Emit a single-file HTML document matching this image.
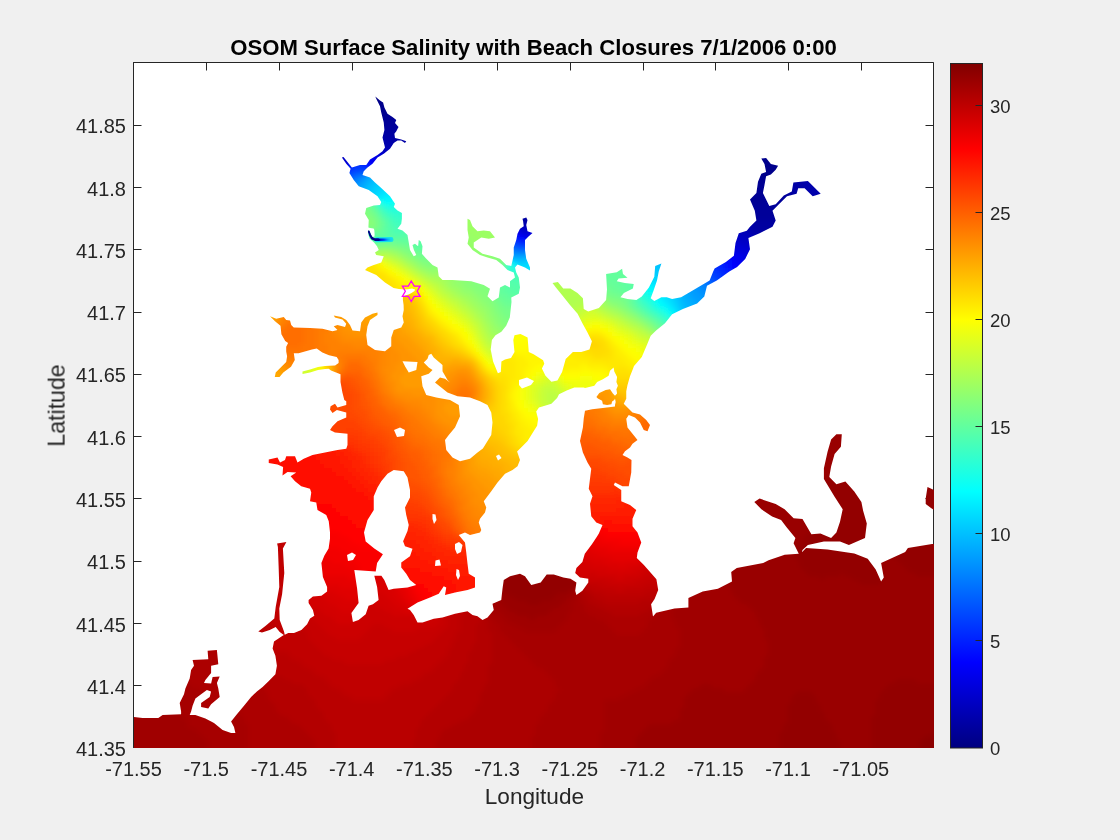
<!DOCTYPE html>
<html><head><meta charset="utf-8"><title>OSOM Surface Salinity</title>
<style>
html,body{margin:0;padding:0;background:#f0f0f0;}
svg{display:block;}
text{font-family:"Liberation Sans",Arial,Helvetica,sans-serif;fill:#262626;}
</style></head><body>
<svg width="1120" height="840" viewBox="0 0 1120 840">
<defs>
<clipPath id="wc">
<polygon points="134,748 134,717 142.6,717.9 158.3,717.9 162.6,715 181.1,714.3 181.1,711.4 179.7,702.9 184,694.3 185.4,688.6 189.7,678.6 191.1,670 194,665.7 192.6,660 208.3,659.3 207.6,650.7 216.9,650 218.3,664.3 211.1,665.7 211.1,672.9 205.4,680 204,682.9 211.1,683.6 212.6,677.1 219.7,676.4 216.9,682.9 218.3,688.6 219.7,697.1 211.1,704.3 208.3,708.6 201.1,707.1 201.1,702.9 209.7,697.1 211.1,691.4 206.9,690 201.1,694.3 195.4,698.6 192.6,705.7 191.1,711.4 189.7,715 195.4,715 205.4,718.6 214,722.9 222.6,730 231.1,732.9 235.4,732.9 234,727.1 231.1,721.4 236.9,714.3 244,705.7 251.1,697.1 256.9,691.4 262.6,687.1 268.3,681.4 275.4,674.3 276.9,665.7 275.4,655.7 272.6,648.6 274,641.4 282.6,635.7 288.3,632.9 294,632.9 301.4,630 307.1,624.3 310,618.6 314.3,615.7 312.9,610 308.6,602.9 308.6,600 312.9,596.4 321.4,595.7 327.1,591.4 327.1,587.1 322.9,577.1 321.4,562.9 324.3,555.7 328.6,548.6 330,538.6 330,532.5 328.75,521.25 326.25,515 317.5,510 316.25,502.5 310,501.25 311.25,492.5 310,488.75 301.25,486.25 295,481.25 290.6,476.25 296.25,472.5 287.5,471.9 282.5,475.6 283.1,466.9 277.5,464.4 268.75,463.1 268.75,459.4 277.5,457.5 280,462.5 285,460 286.25,456.25 295,456.25 297.5,462.5 303.75,458.75 312.5,455 322.5,453.1 337.5,450 346.25,448.75 347.5,445 347.5,433.75 335,432.5 330,430 332.5,426.25 337.5,421.25 346.25,417.5 346.25,412.5 336.9,410 332.5,413.1 330,409.4 330.6,406.25 335,403.75 337.5,407.5 346.25,405 346.25,401.25 344.3,400 342.4,392.4 340.5,381.9 340.5,374.3 331,370.5 327.1,367.6 334.8,365.7 338.6,362.9 338.6,360 336.7,357.1 329,355.2 322.4,352.4 316.7,348.6 311.9,349.5 298.6,353.3 293.8,353.3 294.8,360 291,366.7 283.3,372.4 279.5,377.1 274.8,377.1 275.7,372.4 281.4,366.7 286.2,361.9 287.1,356.2 286.2,351.4 286.2,346.7 288.1,342.9 285.2,341 281.4,334.3 280.5,325.7 275,321.25 270,316.25 276.25,318.75 283.75,316.9 286.25,320 290,320.6 291.25,325 293.75,327.5 310,328.1 322.5,328.75 332.5,331.25 337.5,330 333.75,326.25 337.5,325 345,326.9 346.25,323.75 342.5,319.4 335,317.5 333.75,315.6 341.25,316.9 346.25,320 350,325 352.5,330.6 360,331.25 361.25,322.5 365,317.5 372.5,313.75 377.5,312.5 377.5,315 370,320 367.5,326.25 366.25,335 367.5,345 375,350 385,351.25 391.25,346.25 391.25,337.5 393.75,330 401.25,327.5 403.75,322.5 402.5,316.25 403.75,310 403.6,305 402.9,300 402.9,296.4 405,295.5 408.5,294.5 411.5,293 414.5,291 415,289.5 412,288.6 408,289.2 404.3,289.5 398.9,289 393.6,287.9 385,282.5 376.25,275 365,270 367.5,267.5 373.75,265 381.25,262.5 383.75,256.25 376.25,255 375,252.5 378.75,250 377,246.3 374.3,242.7 371.8,240.6 369.6,238.5 368.2,234 367.9,231.5 368.6,230.2 369.6,231 371,234.5 372.5,237 374.5,236.5 374.6,234 374.3,230 373.6,228.6 370,228 368.4,227.5 368.75,220 365,213.75 366.25,208.1 373.75,205.6 380,205 381.25,201.9 377.5,196.25 368.75,190 358.75,186.25 353.75,180 349.4,173.1 350.6,168.75 346.25,163.75 341.9,157.5 343.5,157 351.9,167.5 360,165 366.25,165 370,159.4 377.5,155 382.5,151.25 385,147.5 383.75,142.5 382.5,137.5 384.4,130 383.75,122.5 381.25,112.5 380,106.25 376.25,98.75 375.3,96.5 380,100.6 383.1,102.5 384.4,107.5 387.5,113.75 392.5,116.9 396.3,120 395,123.1 398.5,126.9 396.3,131.25 394.4,133.75 395,138.1 401.25,139.4 406.25,141.25 405,143.1 401.25,140.6 397.5,140.6 393.75,143.1 390,148.75 383.75,153.75 377.5,157.5 372.5,163.75 367.5,167.5 363.75,171.25 362.5,175 370,177.5 375,182.5 381.25,188 390,196.25 395,203.75 393.75,206.9 397.5,210.6 401.9,213.1 401.9,218.75 401.25,223.75 397.5,228.75 402.5,230.6 407.5,235 408.75,242.5 410,250 413.75,256.25 416.25,255 413.75,249.4 412.5,245 415,243.75 418.1,246.25 418.75,240 420.6,241.25 422.5,246.25 421.9,253.75 425.6,258.1 432.5,265 437.5,267.5 438.75,276.25 442.5,280 452.5,280 460,280.6 471.25,281.25 483.75,285 490,288.75 487.5,296.25 492.5,301.25 498.75,297.5 500,287.5 505,285 510,287.5 510,281.25 515,277.5 513.75,272.5 507.5,270 502.5,265 496.25,260 487.5,257.5 480,255 472.5,250 467.5,243.75 468.75,237.5 467.5,230 467.5,218.75 470,220 472.5,226.25 477.5,231.25 483.75,230.6 490,231.25 495,237.5 488.75,238.75 481.25,237.5 473.75,242.5 473.75,247.5 482.5,253.75 492.5,256.25 500,258.75 506.25,265 511.25,266 513.75,255 513.75,247.5 516.25,240 517.5,233.75 520,228.75 523.75,226.25 523.1,221.25 522.5,218.75 526.25,217.5 527.5,220 526.25,225 527.5,231.25 532.5,233.1 528.75,236.25 525,240 525,250 526.25,258.75 530,267.5 530,270.6 525,267.5 517.5,264.4 515,267.5 516.25,272.5 518.75,277.5 520,287.5 518.75,293.75 511.25,297.5 511.5,301.9 509.8,317.4 506.2,325.7 501.4,331.7 495.5,335.2 491.9,340 490.7,349.5 493.1,361.4 497.9,373.3 500.8,372.1 501.4,361.4 505,359.6 511,357.9 514.5,351.9 513.3,340 514.5,335.2 520.5,334 527.6,337.6 528.8,351.9 533.6,354.3 543.1,360.2 544.3,363.8 541.9,368.6 545.5,375.7 551.4,381.7 557.4,380.5 562.1,372.1 565.7,359 572.9,351.9 581.2,351.9 589.5,349.5 591.9,341.2 587.1,331.7 582.4,323.3 577.6,313.8 570,305 562,295 555.5,287 552.5,283 557.9,282.1 563.2,288.4 570.4,288.4 577.5,292.9 582.9,298.2 583.75,308.9 588.2,311.6 598.9,308 606.1,300 607,289.3 606.1,274.1 616.8,272.3 622.1,268.75 623,274.1 627.5,277.7 618.6,278.6 616.8,281.25 624.8,283 633.75,283.9 632.9,288.4 623.9,292.9 620.4,297.3 627.5,299.1 636.4,300 641.8,296.4 648.9,287.5 654.3,276.8 655.2,266 661.4,263.4 658.75,271.4 657,280.4 653.4,291.1 650.7,298.2 654.3,300.9 661.4,297.3 666.8,297.3 672.1,299.1 681.1,297.3 691.8,291.1 700.7,285.7 709.6,280.4 713.2,271.4 714.6,268.6 725.9,262.1 733.9,255.7 735.5,242.9 738.8,233.2 746.8,230.8 750,226.8 756.4,220.4 754.8,210.7 750,199.5 756.4,193 758,181.8 761.3,173.8 766.1,172.1 764.5,164.1 761.3,158.5 766.1,158 770.9,164.1 778.1,165.7 775.7,169.7 770.9,174.6 766.1,176.2 764.5,185 762.9,193 766.1,199.5 769.3,205.9 775.7,204.3 783.8,195.4 791.8,191.4 793.4,182.6 807.9,181 820.7,193.8 812.7,196.3 804.6,188.2 798.2,188.2 796.6,193.8 787,196.3 778.9,204.3 772.5,210.7 775.7,220.4 772.5,226.8 759.6,233.2 748.4,238 750,249.3 745.2,258.9 737.1,267 729.3,271.4 716.8,280.4 707,285.7 704.3,296.4 697.1,303.6 682.9,308.9 672.1,314.3 665,323.2 656.1,330.4 650.7,335.7 647.1,344.6 641.8,357.1 634,366 632.5,370 630,376.25 627.5,385 626.25,391.25 626.25,398.75 623.75,403.75 627.5,407.5 632.5,412.5 640,414.4 646.25,420 650,425 647.5,431.25 643.75,430 640,422.5 635,417.5 628.75,415 626.25,418.75 627.5,427.5 632.5,433.75 637.5,440 632.5,443.75 630,447.5 625,451.25 622.5,455 627.5,457.5 631.5,460 631.25,472.5 628.75,486.25 622.5,486.25 615,482.5 613.75,485 621.25,490 621.25,501.25 630,505 636.25,510 632.5,518.75 632.5,526.25 637.5,532.5 641.25,542.5 637.5,552.5 636.8,557.9 643.9,565 656.4,579.3 658.2,590 654.6,598.9 651.1,604.3 653,616.6 656.2,612.8 674.5,608.6 688.4,607.5 688.4,598 702.7,591.4 717.9,588.7 732,581.4 731.2,572 736.8,568 763.2,562.9 768.6,560.2 784.7,554.8 800.7,553.5 806.1,548.1 827.5,549.5 854.3,553.5 867.7,558.8 875.7,569.6 881.1,581.6 883.8,577.6 881.1,562.9 905.2,552.1 907.9,548.1 932,544.1 934,544 934,748"/>
<polygon points="277.1,543.6 286.4,542.1 282.9,548.6 284.3,572.9 282.1,594.3 279.3,608.6 279.7,620 284,631.4 285,636 279.7,632 275.7,627 269.7,630 262,632.5 258.3,631.4 265.7,625.7 274.3,618.6 275.7,607.1 279.3,587.1 278.6,565.7 277.9,547.1"/>
<polygon points="302.5,371.5 310,369.5 318,367 325,366 335,365.5 345,364 345,366.8 335,368.5 325,369 318,370 310,372.5 302.5,374"/>
<polygon points="798.9,553.9 793.6,543.2 795.4,537.9 786.4,527.1 781.1,520 772.1,516.4 761.4,509.3 754.3,502.1 759.6,498.6 775.7,503.9 784.6,509.3 793.6,518.2 802.5,519.1 811.4,534.3 820.4,533.4 831.1,537.9 836.4,532.5 840,521.8 842.7,509.3 834.6,496.8 823.9,478.9 823.9,468.2 827.5,452.1 831.1,439.6 836.4,434.3 841.8,434.3 840.9,446.8 834.6,453.9 831.1,466.4 829.3,477.1 836.4,484.3 845.4,481.6 854.3,491.4 861.4,502.1 863.2,511.1 866.8,523.6 865,537.9 848.9,545 840,541.4 823.9,541.4 807.9,545 802.5,550 801,556"/>
<polygon points="927.5,487 932.9,489.6 934,490 934,510 931,508 925.7,503.9 925.7,498.6"/>
</clipPath>
<filter id="bl" x="0" y="0" width="1" height="1"><feGaussianBlur stdDeviation="2.5"/></filter>
<filter id="bl2" x="-0.5" y="-0.5" width="2" height="2"><feGaussianBlur stdDeviation="0.6"/></filter>
<linearGradient id="plume" gradientUnits="userSpaceOnUse" x1="377" y1="0" x2="391" y2="0"><stop offset="0" stop-color="#0000a0"/><stop offset="0.5" stop-color="#0040ff"/><stop offset="1" stop-color="#00c0ff" stop-opacity="0.3"/></linearGradient>
<linearGradient id="jet" x1="0" y1="1" x2="0" y2="0"><stop offset="0.0000" stop-color="#000080"/><stop offset="0.1250" stop-color="#0000ff"/><stop offset="0.2500" stop-color="#0080ff"/><stop offset="0.3750" stop-color="#00ffff"/><stop offset="0.5000" stop-color="#80ff80"/><stop offset="0.6250" stop-color="#ffff00"/><stop offset="0.7500" stop-color="#ff8000"/><stop offset="0.8750" stop-color="#ff0000"/><stop offset="1.0000" stop-color="#800000"/></linearGradient>
</defs>
<rect width="1120" height="840" fill="#f0f0f0"/>
<rect x="133.5" y="62.5" width="800" height="685" fill="#ffffff"/>
<path d="M133.5 747.5V62.5H933.5V747.5Z" fill="none" stroke="#262626" stroke-width="1"/>
<path d="M133.5 62.5v8M133.5 747.5v-8M206.5 62.5v8M206.5 747.5v-8M279.5 62.5v8M279.5 747.5v-8M352.5 62.5v8M352.5 747.5v-8M424.5 62.5v8M424.5 747.5v-8M497.5 62.5v8M497.5 747.5v-8M570.5 62.5v8M570.5 747.5v-8M643.5 62.5v8M643.5 747.5v-8M715.5 62.5v8M715.5 747.5v-8M788.5 62.5v8M788.5 747.5v-8M861.5 62.5v8M861.5 747.5v-8M133.5 747.5h8M933.5 747.5h-8M133.5 685.5h8M933.5 685.5h-8M133.5 623.5h8M933.5 623.5h-8M133.5 561.5h8M933.5 561.5h-8M133.5 498.5h8M933.5 498.5h-8M133.5 436.5h8M933.5 436.5h-8M133.5 374.5h8M933.5 374.5h-8M133.5 312.5h8M933.5 312.5h-8M133.5 249.5h8M933.5 249.5h-8M133.5 187.5h8M933.5 187.5h-8M133.5 125.5h8M933.5 125.5h-8" stroke="#262626" stroke-width="1" fill="none"/>
<g clip-path="url(#wc)"><g filter="url(#bl)">
<path fill="#000080" d="M372 84h8v4h-8zM368 88h12v4h-12zM364 92h16v4h-16zM360 96h16v4h-16zM364 100h4v4h-4z"/>
<path fill="#000086" d="M380 88h4v4h-4zM380 92h8v4h-8zM376 96h8v4h-8zM368 100h8v4h-8zM364 104h4v4h-4z"/>
<path fill="#00008c" d="M384 96h8v4h-8zM376 100h20v4h-20zM368 104h28v4h-28zM368 108h24v4h-24zM368 112h16v4h-16zM368 116h8v4h-8zM760 144h8v4h-8zM756 148h16v4h-16zM752 152h28v4h-28zM748 156h36v4h-36zM748 160h40v4h-40zM752 164h40v4h-40zM752 168h36v4h-36zM752 172h32v4h-32zM760 176h20v4h-20zM772 180h8v4h-8z"/>
<path fill="#000093" d="M396 104h4v4h-4zM392 108h8v4h-8zM384 112h12v4h-12zM376 116h16v4h-16zM368 120h8v4h-8zM788 168h4v4h-4zM748 172h4v4h-4zM784 172h4v4h-4zM744 176h16v4h-16zM780 176h4v4h-4zM744 180h28v4h-28zM744 184h32v4h-32zM744 188h32v4h-32zM740 192h32v4h-32zM736 196h32v4h-32zM736 200h24v4h-24zM740 204h8v4h-8z"/>
<path fill="#000099" d="M396 112h8v4h-8zM392 116h16v4h-16zM376 120h36v4h-36zM368 124h44v4h-44zM400 128h8v4h-8zM776 184h4v4h-4zM776 188h8v4h-8zM772 192h16v4h-16zM768 196h20v4h-20zM760 200h32v4h-32zM748 204h44v4h-44zM740 208h48v4h-48zM740 212h48v4h-48zM752 216h36v4h-36z"/>
<path fill="#0000a0" d="M368 128h32v4h-32zM408 128h4v4h-4zM384 132h20v4h-20zM404 144h12v4h-12zM400 148h12v4h-12zM404 152h4v4h-4zM780 180h4v4h-4zM780 184h8v4h-8zM784 188h8v4h-8zM788 192h8v4h-8zM788 196h12v4h-12zM792 200h8v4h-8zM520 204h8v4h-8zM792 204h8v4h-8zM516 208h16v4h-16zM512 212h24v4h-24zM508 216h32v4h-32zM744 216h8v4h-8zM752 220h36v4h-36zM756 224h32v4h-32zM760 228h24v4h-24zM764 232h16v4h-16zM764 236h12v4h-12zM768 240h4v4h-4z"/>
<path fill="#0000a6" d="M368 132h16v4h-16zM404 132h8v4h-8zM368 136h48v4h-48zM392 140h28v4h-28zM396 144h8v4h-8zM792 168h4v4h-4zM788 172h12v4h-12zM784 176h16v4h-16zM784 180h20v4h-20zM788 184h16v4h-16zM792 188h12v4h-12zM796 192h8v4h-8zM800 196h4v4h-4zM800 200h4v4h-4zM740 216h4v4h-4zM516 220h20v4h-20zM744 220h8v4h-8zM748 224h8v4h-8zM752 228h8v4h-8zM756 232h8v4h-8zM756 236h8v4h-8zM760 240h8v4h-8z"/>
<path fill="#0000ac" d="M368 140h24v4h-24zM380 144h4v4h-4zM388 144h8v4h-8zM396 148h4v4h-4zM400 152h4v4h-4zM796 168h16v4h-16zM800 172h16v4h-16zM800 176h20v4h-20zM804 180h20v4h-20zM804 184h24v4h-24zM804 188h28v4h-28zM804 192h32v4h-32zM804 196h28v4h-28zM804 200h24v4h-24zM808 204h16v4h-16zM812 208h4v4h-4zM740 220h4v4h-4zM744 224h4v4h-4zM748 228h4v4h-4zM752 232h4v4h-4zM752 236h4v4h-4zM756 240h4v4h-4z"/>
<path fill="#0000b3" d="M376 144h4v4h-4zM384 144h4v4h-4zM388 148h8v4h-8zM392 152h8v4h-8zM512 220h4v4h-4zM536 220h4v4h-4zM524 224h8v4h-8zM740 224h4v4h-4zM744 228h4v4h-4zM748 232h4v4h-4z"/>
<path fill="#0000b9" d="M384 148h4v4h-4zM388 152h4v4h-4zM392 156h4v4h-4zM736 220h4v4h-4zM520 224h4v4h-4zM532 224h4v4h-4zM740 228h4v4h-4zM740 232h8v4h-8zM748 236h4v4h-4z"/>
<path fill="#0000c0" d="M340 144h8v4h-8zM336 148h16v4h-16zM332 152h16v4h-16zM328 156h16v4h-16zM328 160h12v4h-12zM508 220h4v4h-4zM732 224h8v4h-8zM728 228h12v4h-12zM732 232h8v4h-8zM740 236h8v4h-8zM752 240h4v4h-4z"/>
<path fill="#0000c6" d="M372 144h4v4h-4zM380 148h4v4h-4zM348 152h4v4h-4zM384 152h4v4h-4zM344 156h4v4h-4zM388 156h4v4h-4zM340 160h4v4h-4zM332 164h4v4h-4zM516 224h4v4h-4zM524 228h4v4h-4zM724 232h8v4h-8zM728 236h12v4h-12zM740 240h12v4h-12zM760 244h4v4h-4z"/>
<path fill="#0000cc" d="M376 148h4v4h-4zM352 152h4v4h-4zM380 152h4v4h-4zM348 156h4v4h-4zM384 156h4v4h-4zM344 160h4v4h-4zM384 160h8v4h-8zM336 164h8v4h-8zM336 168h4v4h-4zM520 228h4v4h-4zM528 228h4v4h-4zM724 236h4v4h-4zM720 240h20v4h-20zM740 244h12v4h-12z"/>
<path fill="#0000d3" d="M380 156h4v4h-4zM720 244h20v4h-20zM752 244h8v4h-8zM744 248h20v4h-20zM752 252h12v4h-12z"/>
<path fill="#0000d9" d="M368 144h4v4h-4zM372 148h4v4h-4zM376 152h4v4h-4zM352 156h4v4h-4zM348 160h4v4h-4zM344 164h4v4h-4zM384 164h4v4h-4zM508 224h8v4h-8zM536 224h4v4h-4zM516 228h4v4h-4zM532 228h12v4h-12zM524 232h24v4h-24zM536 236h8v4h-8zM732 248h12v4h-12zM744 252h8v4h-8zM752 256h8v4h-8z"/>
<path fill="#0000e0" d="M372 152h4v4h-4zM376 156h4v4h-4zM380 160h4v4h-4zM512 228h4v4h-4zM520 232h4v4h-4zM532 236h4v4h-4zM536 240h4v4h-4zM728 248h4v4h-4zM740 252h4v4h-4zM744 256h8v4h-8zM752 260h4v4h-4z"/>
<path fill="#0000e6" d="M368 148h4v4h-4zM528 236h4v4h-4zM532 240h4v4h-4zM736 252h4v4h-4zM740 256h4v4h-4zM744 260h8v4h-8zM748 264h8v4h-8z"/>
<path fill="#0000ed" d="M368 152h4v4h-4zM372 156h4v4h-4zM376 160h4v4h-4zM380 164h4v4h-4zM732 252h4v4h-4zM736 256h4v4h-4zM740 260h4v4h-4zM744 264h4v4h-4zM748 268h4v4h-4z"/>
<path fill="#0000f3" d="M364 148h4v4h-4zM364 152h4v4h-4zM368 156h4v4h-4zM372 160h4v4h-4zM376 164h4v4h-4zM380 168h4v4h-4zM508 228h4v4h-4zM516 232h4v4h-4zM524 236h4v4h-4zM724 248h4v4h-4zM728 252h4v4h-4zM732 256h4v4h-4zM736 260h4v4h-4z"/>
<path fill="#0000f9" d="M368 160h4v4h-4zM348 164h4v4h-4zM508 232h8v4h-8zM732 260h4v4h-4zM736 264h8v4h-8zM744 268h4v4h-4z"/>
<path fill="#0001ff" d="M364 156h4v4h-4zM372 164h4v4h-4zM376 168h4v4h-4zM520 236h4v4h-4zM528 240h4v4h-4zM720 248h4v4h-4zM724 252h4v4h-4zM728 256h4v4h-4zM732 264h4v4h-4zM740 268h4v4h-4zM744 272h4v4h-4z"/>
<path fill="#0007ff" d="M360 152h4v4h-4zM352 160h4v4h-4zM512 236h8v4h-8zM720 252h4v4h-4zM724 256h4v4h-4zM728 260h4v4h-4zM732 268h8v4h-8zM736 272h8v4h-8zM736 276h8v4h-8z"/>
<path fill="#000eff" d="M368 164h4v4h-4zM340 168h4v4h-4zM372 168h4v4h-4zM720 256h4v4h-4zM724 260h4v4h-4zM728 264h4v4h-4zM732 272h4v4h-4z"/>
<path fill="#0014ff" d="M364 160h4v4h-4zM716 252h4v4h-4zM724 264h4v4h-4zM728 268h4v4h-4zM732 276h4v4h-4z"/>
<path fill="#001aff" d="M360 156h4v4h-4zM344 168h4v4h-4zM508 236h4v4h-4zM524 240h4v4h-4zM536 244h4v4h-4zM720 260h4v4h-4zM724 268h4v4h-4zM728 272h4v4h-4zM732 280h4v4h-4z"/>
<path fill="#0021ff" d="M364 164h4v4h-4zM368 168h4v4h-4zM520 240h4v4h-4zM716 256h4v4h-4zM716 260h4v4h-4zM720 264h4v4h-4zM724 272h4v4h-4zM728 276h4v4h-4z"/>
<path fill="#0027ff" d="M516 240h4v4h-4zM712 256h4v4h-4zM716 264h4v4h-4zM720 268h4v4h-4zM724 276h4v4h-4zM728 280h4v4h-4z"/>
<path fill="#002eff" d="M360 160h4v4h-4zM352 164h4v4h-4zM360 164h4v4h-4zM348 168h4v4h-4zM708 260h8v4h-8zM712 264h4v4h-4zM716 268h4v4h-4zM720 272h4v4h-4zM724 280h4v4h-4z"/>
<path fill="#0034ff" d="M356 152h4v4h-4zM356 156h4v4h-4zM356 160h4v4h-4zM356 164h4v4h-4zM364 168h4v4h-4zM708 264h4v4h-4zM712 268h4v4h-4zM716 272h4v4h-4zM720 276h4v4h-4z"/>
<path fill="#003bff" d="M352 168h4v4h-4zM508 240h8v4h-8zM704 264h4v4h-4zM708 268h4v4h-4zM712 272h4v4h-4zM716 276h4v4h-4zM720 280h4v4h-4zM720 284h8v4h-8z"/>
<path fill="#0041ff" d="M356 168h8v4h-8zM520 244h16v4h-16zM704 268h4v4h-4z"/>
<path fill="#0047ff" d="M336 172h16v4h-16zM336 176h4v4h-4zM504 240h4v4h-4zM516 244h4v4h-4zM700 268h4v4h-4zM704 272h8v4h-8zM712 276h4v4h-4zM716 280h4v4h-4z"/>
<path fill="#004eff" d="M340 176h4v4h-4zM708 276h4v4h-4zM720 288h4v4h-4z"/>
<path fill="#0054ff" d="M352 172h4v4h-4zM344 176h4v4h-4zM512 244h4v4h-4zM700 272h4v4h-4zM712 280h4v4h-4zM716 284h4v4h-4z"/>
<path fill="#005bff" d="M356 172h4v4h-4zM348 176h4v4h-4zM340 180h8v4h-8zM712 284h4v4h-4zM716 288h4v4h-4z"/>
<path fill="#0061ff" d="M360 172h4v4h-4zM704 276h4v4h-4zM708 280h4v4h-4z"/>
<path fill="#0067ff" d="M364 172h4v4h-4zM352 176h4v4h-4zM508 244h4v4h-4zM516 248h20v4h-20z"/>
<path fill="#006eff" d="M348 180h4v4h-4zM504 244h4v4h-4z"/>
<path fill="#0074ff" d="M504 248h12v4h-12zM704 280h4v4h-4zM708 284h4v4h-4zM712 288h4v4h-4z"/>
<path fill="#007bff" d="M356 176h4v4h-4zM344 184h4v4h-4zM700 276h4v4h-4zM704 284h4v4h-4zM716 292h4v4h-4z"/>
<path fill="#0081ff" d="M352 180h4v4h-4zM696 272h4v4h-4zM700 280h4v4h-4zM708 288h4v4h-4z"/>
<path fill="#0088ff" d="M360 176h4v4h-4zM348 184h4v4h-4zM536 248h4v4h-4zM520 252h4v4h-4zM692 276h8v4h-8zM696 280h4v4h-4zM700 284h4v4h-4zM704 288h4v4h-4zM712 292h4v4h-4z"/>
<path fill="#008eff" d="M356 180h4v4h-4zM352 184h4v4h-4zM348 188h4v4h-4zM508 252h12v4h-12zM524 252h4v4h-4zM692 280h4v4h-4zM696 284h4v4h-4zM700 288h4v4h-4zM704 292h8v4h-8zM708 296h12v4h-12zM712 300h4v4h-4z"/>
<path fill="#0094ff" d="M688 276h4v4h-4zM692 284h4v4h-4zM696 288h4v4h-4zM700 292h4v4h-4zM704 296h4v4h-4zM708 300h4v4h-4z"/>
<path fill="#009bff" d="M360 180h4v4h-4zM356 184h4v4h-4zM352 188h4v4h-4zM688 280h4v4h-4zM688 284h4v4h-4zM692 288h4v4h-4zM692 292h8v4h-8zM696 296h8v4h-8zM704 300h4v4h-4zM708 304h4v4h-4z"/>
<path fill="#00a1ff" d="M364 176h4v4h-4zM356 188h4v4h-4zM352 192h8v4h-8zM680 280h8v4h-8zM684 284h4v4h-4zM688 288h4v4h-4zM688 292h4v4h-4zM692 296h4v4h-4zM696 300h8v4h-8zM700 304h8v4h-8zM700 308h8v4h-8z"/>
<path fill="#00a8ff" d="M368 172h8v4h-8zM364 180h4v4h-4zM360 184h4v4h-4zM356 196h4v4h-4zM528 252h4v4h-4zM684 288h4v4h-4zM688 296h4v4h-4zM692 300h4v4h-4zM692 304h8v4h-8zM696 308h4v4h-4zM696 312h8v4h-8z"/>
<path fill="#00aeff" d="M368 176h4v4h-4zM360 188h4v4h-4zM508 256h16v4h-16zM680 284h4v4h-4zM680 288h4v4h-4zM684 292h4v4h-4zM684 296h4v4h-4zM688 300h4v4h-4zM692 308h4v4h-4z"/>
<path fill="#00b4ff" d="M376 172h4v4h-4zM372 176h4v4h-4zM368 180h4v4h-4zM364 184h4v4h-4zM360 192h4v4h-4zM532 252h8v4h-8zM524 256h8v4h-8zM676 284h4v4h-4zM676 288h4v4h-4zM680 292h4v4h-4zM680 296h4v4h-4zM684 300h4v4h-4zM684 304h8v4h-8zM688 308h4v4h-4zM688 312h8v4h-8zM692 316h4v4h-4z"/>
<path fill="#00bbff" d="M380 172h4v4h-4zM376 176h4v4h-4zM364 188h4v4h-4zM360 196h4v4h-4zM676 292h4v4h-4zM680 300h4v4h-4zM684 308h4v4h-4zM688 316h4v4h-4z"/>
<path fill="#00c1ff" d="M372 180h4v4h-4zM368 184h4v4h-4zM364 192h4v4h-4zM660 248h4v4h-4zM652 252h16v4h-16zM648 256h24v4h-24zM652 260h24v4h-24zM656 264h20v4h-20zM668 268h4v4h-4zM680 304h4v4h-4zM684 312h4v4h-4z"/>
<path fill="#00c8ff" d="M380 176h4v4h-4zM376 180h4v4h-4zM372 184h4v4h-4zM368 188h4v4h-4zM368 192h4v4h-4zM364 196h4v4h-4zM504 228h4v4h-4zM504 232h4v4h-4zM532 256h4v4h-4zM516 260h8v4h-8zM644 260h8v4h-8zM640 264h16v4h-16zM640 268h28v4h-28zM656 272h16v4h-16zM664 276h8v4h-8zM676 296h4v4h-4zM676 300h4v4h-4zM680 308h4v4h-4zM684 316h4v4h-4z"/>
<path fill="#00ceff" d="M376 184h4v4h-4zM372 188h4v4h-4zM536 256h4v4h-4zM524 260h4v4h-4zM648 272h8v4h-8zM660 276h4v4h-4zM672 284h4v4h-4zM672 292h4v4h-4zM672 296h4v4h-4zM676 304h4v4h-4zM680 312h4v4h-4zM684 320h4v4h-4z"/>
<path fill="#00d4ff" d="M384 176h4v4h-4zM380 180h8v4h-8zM380 184h4v4h-4zM376 188h4v4h-4zM372 192h4v4h-4zM368 196h8v4h-8zM512 260h4v4h-4zM528 260h4v4h-4zM520 264h4v4h-4zM644 272h4v4h-4zM652 276h8v4h-8zM668 280h4v4h-4zM672 288h4v4h-4zM672 300h4v4h-4zM676 308h4v4h-4zM680 316h4v4h-4z"/>
<path fill="#00dbff" d="M388 180h4v4h-4zM384 184h4v4h-4zM380 188h4v4h-4zM376 192h4v4h-4zM532 260h8v4h-8zM524 264h4v4h-4zM648 276h4v4h-4zM656 280h12v4h-12zM660 284h4v4h-4zM668 296h4v4h-4zM672 304h4v4h-4z"/>
<path fill="#00e1ff" d="M388 184h4v4h-4zM384 188h4v4h-4zM380 192h4v4h-4zM540 260h4v4h-4zM528 264h8v4h-8zM524 268h4v4h-4zM644 276h4v4h-4zM652 280h4v4h-4zM664 284h8v4h-8zM664 288h8v4h-8zM664 292h8v4h-8zM664 296h4v4h-4zM668 300h4v4h-4zM676 312h4v4h-4z"/>
<path fill="#00e8ff" d="M392 184h4v4h-4zM388 188h4v4h-4zM384 192h4v4h-4zM376 196h4v4h-4zM516 264h4v4h-4zM536 264h8v4h-8zM528 268h16v4h-16zM528 272h12v4h-12zM532 276h4v4h-4zM648 280h4v4h-4zM656 284h4v4h-4zM660 288h4v4h-4zM660 292h4v4h-4zM660 296h4v4h-4zM664 300h4v4h-4zM668 304h4v4h-4zM672 308h4v4h-4zM680 320h4v4h-4z"/>
<path fill="#00eeff" d="M392 188h4v4h-4zM388 192h4v4h-4zM380 196h4v4h-4zM504 236h4v4h-4zM644 280h4v4h-4zM652 284h4v4h-4zM656 288h4v4h-4z"/>
<path fill="#00f5ff" d="M396 188h4v4h-4zM392 192h4v4h-4zM384 196h8v4h-8zM520 268h4v4h-4zM648 284h4v4h-4zM656 292h4v4h-4zM660 300h4v4h-4zM664 304h4v4h-4zM668 308h4v4h-4zM672 312h4v4h-4zM676 316h4v4h-4z"/>
<path fill="#00fbff" d="M396 192h8v4h-8zM392 196h4v4h-4zM524 272h4v4h-4zM652 288h4v4h-4zM656 296h4v4h-4z"/>
<path fill="#02fffd" d="M396 196h4v4h-4zM384 200h8v4h-8zM500 244h4v4h-4zM508 260h4v4h-4zM528 276h4v4h-4zM644 284h4v4h-4zM648 288h4v4h-4zM656 300h4v4h-4zM660 304h4v4h-4z"/>
<path fill="#09fff6" d="M400 196h4v4h-4zM380 200h4v4h-4zM392 200h4v4h-4zM504 252h4v4h-4zM512 264h4v4h-4zM644 288h4v4h-4zM652 292h4v4h-4zM664 308h4v4h-4zM668 312h4v4h-4z"/>
<path fill="#0ffff0" d="M404 196h4v4h-4zM396 200h8v4h-8zM640 284h4v4h-4zM640 288h4v4h-4zM648 292h4v4h-4zM656 304h4v4h-4z"/>
<path fill="#16ffe9" d="M376 200h4v4h-4zM404 200h4v4h-4zM388 204h12v4h-12zM644 292h4v4h-4zM652 296h4v4h-4zM652 300h4v4h-4zM660 308h4v4h-4zM672 316h4v4h-4zM676 320h4v4h-4z"/>
<path fill="#1cffe3" d="M384 204h4v4h-4zM640 272h4v4h-4zM648 296h4v4h-4zM652 304h4v4h-4zM664 312h4v4h-4z"/>
<path fill="#22ffdd" d="M392 208h4v4h-4zM640 276h4v4h-4zM640 292h4v4h-4zM644 296h4v4h-4zM648 300h4v4h-4zM656 308h4v4h-4zM668 316h4v4h-4zM672 320h4v4h-4zM676 324h4v4h-4z"/>
<path fill="#29ffd6" d="M380 204h4v4h-4zM400 204h4v4h-4zM388 208h4v4h-4zM396 208h4v4h-4zM512 268h8v4h-8zM640 280h4v4h-4zM660 312h4v4h-4z"/>
<path fill="#2fffd0" d="M404 204h4v4h-4zM384 208h4v4h-4zM400 208h12v4h-12zM392 212h24v4h-24zM508 264h4v4h-4zM508 268h4v4h-4zM640 296h4v4h-4zM644 300h4v4h-4zM648 304h4v4h-4zM652 308h4v4h-4zM664 316h4v4h-4zM668 320h4v4h-4zM672 324h4v4h-4z"/>
<path fill="#36ffc9" d="M388 212h4v4h-4zM396 216h20v4h-20zM504 272h12v4h-12zM636 292h4v4h-4zM656 312h4v4h-4z"/>
<path fill="#3cffc3" d="M392 216h4v4h-4zM396 220h20v4h-20zM640 300h4v4h-4zM644 304h4v4h-4zM648 308h4v4h-4zM660 316h4v4h-4z"/>
<path fill="#43ffbc" d="M380 208h4v4h-4zM384 212h4v4h-4zM388 216h4v4h-4zM392 220h4v4h-4zM396 224h12v4h-12zM516 272h4v4h-4zM636 296h4v4h-4zM652 312h4v4h-4zM664 320h4v4h-4zM668 324h4v4h-4z"/>
<path fill="#49ffb6" d="M376 204h4v4h-4zM392 224h4v4h-4zM408 224h4v4h-4zM396 228h4v4h-4zM504 268h4v4h-4zM500 272h4v4h-4zM520 272h4v4h-4zM516 276h4v4h-4zM636 300h4v4h-4zM640 304h4v4h-4zM644 308h4v4h-4zM656 316h4v4h-4z"/>
<path fill="#4fffb0" d="M372 200h4v4h-4zM380 212h4v4h-4zM384 216h4v4h-4zM388 220h4v4h-4zM388 224h4v4h-4zM392 228h4v4h-4zM400 228h8v4h-8zM352 232h20v4h-20zM392 232h12v4h-12zM356 236h16v4h-16zM356 240h12v4h-12zM504 276h12v4h-12zM520 276h8v4h-8zM512 280h16v4h-16zM636 288h4v4h-4zM648 312h4v4h-4zM660 320h4v4h-4zM664 324h4v4h-4zM668 328h4v4h-4z"/>
<path fill="#56ffa9" d="M376 208h4v4h-4zM412 224h4v4h-4zM388 228h4v4h-4zM408 228h8v4h-8zM372 232h4v4h-4zM388 232h4v4h-4zM404 232h8v4h-8zM372 236h4v4h-4zM368 240h8v4h-8zM360 244h12v4h-12zM504 264h4v4h-4zM508 280h4v4h-4zM528 280h4v4h-4zM508 284h28v4h-28zM512 288h24v4h-24zM516 292h16v4h-16zM516 296h12v4h-12zM520 300h4v4h-4zM636 304h4v4h-4zM640 308h4v4h-4zM652 316h4v4h-4z"/>
<path fill="#5cffa3" d="M372 204h4v4h-4zM380 216h4v4h-4zM384 220h4v4h-4zM384 224h4v4h-4zM384 228h4v4h-4zM416 228h8v4h-8zM384 232h4v4h-4zM412 232h16v4h-16zM376 236h56v4h-56zM416 240h20v4h-20zM412 244h24v4h-24zM500 268h4v4h-4zM496 272h4v4h-4zM636 272h4v4h-4zM500 276h4v4h-4zM632 276h8v4h-8zM500 280h8v4h-8zM624 280h16v4h-16zM504 284h4v4h-4zM624 284h16v4h-16zM504 288h8v4h-8zM628 288h8v4h-8zM508 292h8v4h-8zM632 292h4v4h-4zM632 296h4v4h-4zM632 300h4v4h-4zM644 312h4v4h-4zM656 320h4v4h-4z"/>
<path fill="#63ff9c" d="M376 212h4v4h-4zM380 228h4v4h-4zM376 232h8v4h-8zM376 240h4v4h-4zM400 240h16v4h-16zM416 248h16v4h-16zM616 256h8v4h-8zM604 260h24v4h-24zM600 264h32v4h-32zM596 268h40v4h-40zM592 272h44v4h-44zM496 276h4v4h-4zM592 276h40v4h-40zM496 280h4v4h-4zM612 280h12v4h-12zM496 284h8v4h-8zM616 284h8v4h-8zM496 288h8v4h-8zM620 288h8v4h-8zM500 292h8v4h-8zM628 292h4v4h-4zM508 296h8v4h-8zM516 300h4v4h-4zM632 304h4v4h-4zM636 308h4v4h-4zM648 316h4v4h-4zM660 324h4v4h-4zM664 328h4v4h-4z"/>
<path fill="#69ff96" d="M368 200h4v4h-4zM372 208h4v4h-4zM380 220h4v4h-4zM380 224h4v4h-4zM352 228h20v4h-20zM380 240h20v4h-20zM372 244h4v4h-4zM412 248h4v4h-4zM432 248h4v4h-4zM424 252h4v4h-4zM592 280h20v4h-20zM592 284h24v4h-24zM612 288h8v4h-8zM496 292h4v4h-4zM620 292h8v4h-8zM500 296h8v4h-8zM628 296h4v4h-4zM504 300h12v4h-12zM628 300h4v4h-4zM520 304h4v4h-4zM640 312h4v4h-4zM652 320h4v4h-4zM656 324h4v4h-4z"/>
<path fill="#6fff90" d="M368 204h4v4h-4zM376 216h4v4h-4zM376 228h4v4h-4zM404 244h8v4h-8zM416 252h8v4h-8zM504 260h4v4h-4zM500 264h4v4h-4zM492 276h4v4h-4zM492 280h4v4h-4zM492 284h4v4h-4zM492 288h4v4h-4zM596 288h16v4h-16zM612 292h8v4h-8zM496 296h4v4h-4zM624 296h4v4h-4zM500 300h4v4h-4zM504 304h16v4h-16zM628 304h4v4h-4zM632 308h4v4h-4zM644 316h4v4h-4zM660 328h4v4h-4zM660 332h8v4h-8z"/>
<path fill="#76ff89" d="M364 200h4v4h-4zM368 208h4v4h-4zM372 212h4v4h-4zM376 220h4v4h-4zM376 224h4v4h-4zM376 244h4v4h-4zM396 244h8v4h-8zM428 252h4v4h-4zM420 256h8v4h-8zM496 268h4v4h-4zM492 292h4v4h-4zM600 292h12v4h-12zM616 296h8v4h-8zM496 300h4v4h-4zM624 300h4v4h-4zM500 304h4v4h-4zM504 308h20v4h-20zM504 312h20v4h-20zM636 312h4v4h-4zM512 316h12v4h-12zM648 320h4v4h-4z"/>
<path fill="#7cff83" d="M356 200h8v4h-8zM360 204h8v4h-8zM364 208h4v4h-4zM368 212h4v4h-4zM372 216h4v4h-4zM372 228h4v4h-4zM380 244h16v4h-16zM404 248h8v4h-8zM412 252h4v4h-4zM432 252h8v4h-8zM416 256h4v4h-4zM428 256h8v4h-8zM504 256h4v4h-4zM424 260h8v4h-8zM500 260h4v4h-4zM496 264h4v4h-4zM492 268h4v4h-4zM592 288h4v4h-4zM596 292h4v4h-4zM492 296h4v4h-4zM608 296h8v4h-8zM492 300h4v4h-4zM620 300h4v4h-4zM496 304h4v4h-4zM624 304h4v4h-4zM496 308h8v4h-8zM628 308h4v4h-4zM500 312h4v4h-4zM504 316h8v4h-8zM640 316h4v4h-4zM508 320h12v4h-12zM652 324h4v4h-4zM656 328h4v4h-4zM660 336h4v4h-4z"/>
<path fill="#83ff7c" d="M352 204h8v4h-8zM352 208h12v4h-12zM352 212h16v4h-16zM352 216h20v4h-20zM356 220h8v4h-8zM372 220h4v4h-4zM372 224h4v4h-4zM364 248h4v4h-4zM400 248h4v4h-4zM408 252h4v4h-4zM500 252h4v4h-4zM412 256h4v4h-4zM436 256h4v4h-4zM500 256h4v4h-4zM420 260h4v4h-4zM432 260h4v4h-4zM496 260h4v4h-4zM428 264h4v4h-4zM492 264h4v4h-4zM472 268h4v4h-4zM472 272h20v4h-20zM472 276h20v4h-20zM472 280h20v4h-20zM472 284h20v4h-20zM476 288h16v4h-16zM484 292h8v4h-8zM488 296h4v4h-4zM604 296h4v4h-4zM612 300h8v4h-8zM492 304h4v4h-4zM620 304h4v4h-4zM496 312h4v4h-4zM632 312h4v4h-4zM500 316h4v4h-4zM500 320h8v4h-8zM644 320h4v4h-4zM504 324h8v4h-8z"/>
<path fill="#89ff76" d="M364 220h8v4h-8zM356 224h16v4h-16zM396 248h4v4h-4zM496 248h8v4h-8zM404 252h4v4h-4zM492 252h8v4h-8zM440 256h4v4h-4zM492 256h8v4h-8zM416 260h4v4h-4zM436 260h12v4h-12zM488 260h8v4h-8zM424 264h4v4h-4zM432 264h8v4h-8zM488 264h4v4h-4zM460 268h12v4h-12zM476 268h16v4h-16zM460 272h12v4h-12zM460 276h12v4h-12zM464 280h8v4h-8zM464 284h8v4h-8zM472 288h4v4h-4zM476 292h8v4h-8zM480 296h8v4h-8zM484 300h8v4h-8zM608 300h4v4h-4zM488 304h4v4h-4zM616 304h4v4h-4zM492 308h4v4h-4zM624 308h4v4h-4zM492 312h4v4h-4zM496 316h4v4h-4zM636 316h4v4h-4zM496 320h4v4h-4zM500 324h4v4h-4zM648 324h4v4h-4zM504 328h4v4h-4zM652 328h4v4h-4zM656 332h4v4h-4z"/>
<path fill="#90ff6f" d="M392 248h4v4h-4zM472 248h24v4h-24zM400 252h4v4h-4zM468 252h24v4h-24zM408 256h4v4h-4zM464 256h28v4h-28zM468 260h20v4h-20zM420 264h4v4h-4zM440 264h8v4h-8zM472 264h16v4h-16zM428 268h12v4h-12zM456 268h4v4h-4zM456 272h4v4h-4zM456 276h4v4h-4zM456 280h8v4h-8zM460 284h4v4h-4zM464 288h8v4h-8zM472 292h4v4h-4zM476 296h4v4h-4zM600 296h4v4h-4zM480 300h4v4h-4zM484 304h4v4h-4zM612 304h4v4h-4zM488 308h4v4h-4zM620 308h4v4h-4zM488 312h4v4h-4zM628 312h4v4h-4zM492 316h4v4h-4zM492 320h4v4h-4zM640 320h4v4h-4zM496 324h4v4h-4zM500 328h4v4h-4zM504 332h4v4h-4z"/>
<path fill="#96ff69" d="M456 236h16v4h-16zM452 240h24v4h-24zM456 244h28v4h-28zM376 248h4v4h-4zM388 248h4v4h-4zM456 248h16v4h-16zM460 252h8v4h-8zM404 256h4v4h-4zM412 260h4v4h-4zM416 264h4v4h-4zM448 264h4v4h-4zM424 268h4v4h-4zM440 268h16v4h-16zM448 272h8v4h-8zM448 276h8v4h-8zM452 280h4v4h-4zM452 284h8v4h-8zM460 288h4v4h-4zM464 292h8v4h-8zM472 296h4v4h-4zM476 300h4v4h-4zM604 300h4v4h-4zM480 304h4v4h-4zM608 304h4v4h-4zM484 308h4v4h-4zM624 312h4v4h-4zM488 316h4v4h-4zM632 316h4v4h-4zM492 324h4v4h-4zM644 324h4v4h-4zM496 328h4v4h-4zM500 332h4v4h-4z"/>
<path fill="#9cff63" d="M464 204h8v4h-8zM460 208h16v4h-16zM456 212h24v4h-24zM452 216h40v4h-40zM452 220h44v4h-44zM452 224h48v4h-48zM452 228h52v4h-52zM456 232h48v4h-48zM472 236h32v4h-32zM476 240h28v4h-28zM484 244h16v4h-16zM380 248h8v4h-8zM396 252h4v4h-4zM408 260h4v4h-4zM420 268h4v4h-4zM428 272h20v4h-20zM448 280h4v4h-4zM448 284h4v4h-4zM456 288h4v4h-4zM460 292h4v4h-4zM592 292h4v4h-4zM468 296h4v4h-4zM472 300h4v4h-4zM476 304h4v4h-4zM480 308h4v4h-4zM616 308h4v4h-4zM484 312h4v4h-4zM484 316h4v4h-4zM628 316h4v4h-4zM488 320h4v4h-4zM636 320h4v4h-4zM512 324h4v4h-4zM492 328h4v4h-4zM648 328h4v4h-4zM496 332h4v4h-4zM500 336h4v4h-4z"/>
<path fill="#a3ff5c" d="M372 248h4v4h-4zM392 252h4v4h-4zM400 256h4v4h-4zM412 264h4v4h-4zM436 276h4v4h-4zM444 276h4v4h-4zM444 280h4v4h-4zM452 288h4v4h-4zM456 292h4v4h-4zM464 296h4v4h-4zM596 296h4v4h-4zM468 300h4v4h-4zM600 300h4v4h-4zM472 304h4v4h-4zM604 304h4v4h-4zM476 308h4v4h-4zM612 308h4v4h-4zM480 312h4v4h-4zM620 312h4v4h-4zM484 320h4v4h-4zM632 320h4v4h-4zM488 324h4v4h-4zM640 324h4v4h-4zM488 328h4v4h-4zM508 328h4v4h-4zM492 332h4v4h-4zM652 332h4v4h-4zM496 336h4v4h-4zM500 340h4v4h-4z"/>
<path fill="#a9ff56" d="M388 252h4v4h-4zM404 260h4v4h-4zM416 268h4v4h-4zM424 272h4v4h-4zM432 276h4v4h-4zM440 276h4v4h-4zM440 280h4v4h-4zM444 284h4v4h-4zM448 288h4v4h-4zM452 292h4v4h-4zM460 296h4v4h-4zM592 296h4v4h-4zM464 300h4v4h-4zM468 304h4v4h-4zM600 304h4v4h-4zM472 308h4v4h-4zM608 308h4v4h-4zM476 312h4v4h-4zM616 312h4v4h-4zM480 316h4v4h-4zM624 316h4v4h-4zM484 324h4v4h-4zM644 328h4v4h-4zM488 332h4v4h-4zM492 336h4v4h-4zM656 336h4v4h-4zM496 340h4v4h-4z"/>
<path fill="#b0ff4f" d="M368 248h4v4h-4zM360 252h28v4h-28zM372 256h8v4h-8zM396 256h4v4h-4zM408 264h4v4h-4zM552 268h8v4h-8zM420 272h4v4h-4zM548 272h16v4h-16zM428 276h4v4h-4zM544 276h36v4h-36zM436 280h4v4h-4zM540 280h44v4h-44zM440 284h4v4h-4zM540 284h48v4h-48zM444 288h4v4h-4zM544 288h48v4h-48zM544 292h48v4h-48zM456 296h4v4h-4zM548 296h44v4h-44zM460 300h4v4h-4zM552 300h36v4h-36zM596 300h4v4h-4zM556 304h20v4h-20zM560 308h12v4h-12zM604 308h4v4h-4zM564 312h4v4h-4zM612 312h4v4h-4zM476 316h4v4h-4zM620 316h4v4h-4zM480 320h4v4h-4zM628 320h4v4h-4zM636 324h4v4h-4zM484 328h4v4h-4zM648 332h4v4h-4zM488 336h4v4h-4z"/>
<path fill="#b6ff49" d="M392 256h4v4h-4zM400 260h4v4h-4zM412 268h4v4h-4zM424 276h4v4h-4zM432 280h4v4h-4zM448 292h4v4h-4zM452 296h4v4h-4zM588 300h4v4h-4zM464 304h4v4h-4zM576 304h12v4h-12zM596 304h4v4h-4zM468 308h4v4h-4zM572 308h4v4h-4zM600 308h4v4h-4zM472 312h4v4h-4zM568 312h4v4h-4zM608 312h4v4h-4zM564 316h4v4h-4zM624 320h4v4h-4zM480 324h4v4h-4zM632 324h4v4h-4zM640 328h4v4h-4zM484 332h4v4h-4zM652 336h4v4h-4zM488 340h8v4h-8zM660 340h4v4h-4z"/>
<path fill="#bcff43" d="M404 264h4v4h-4zM416 272h4v4h-4zM428 280h4v4h-4zM436 284h4v4h-4zM440 288h4v4h-4zM444 292h4v4h-4zM448 296h4v4h-4zM456 300h4v4h-4zM592 300h4v4h-4zM460 304h4v4h-4zM464 308h4v4h-4zM576 308h4v4h-4zM468 312h4v4h-4zM572 312h4v4h-4zM472 316h4v4h-4zM568 316h4v4h-4zM616 316h4v4h-4zM476 320h4v4h-4zM520 320h4v4h-4zM628 324h4v4h-4zM480 328h4v4h-4zM636 328h4v4h-4zM644 332h4v4h-4zM484 336h4v4h-4zM656 340h4v4h-4zM548 392h8v4h-8zM548 396h12v4h-12zM548 400h20v4h-20zM552 404h12v4h-12zM556 408h4v4h-4z"/>
<path fill="#c3ff3c" d="M388 256h4v4h-4zM396 260h4v4h-4zM408 268h4v4h-4zM420 276h4v4h-4zM432 284h4v4h-4zM436 288h4v4h-4zM440 292h4v4h-4zM452 300h4v4h-4zM456 304h4v4h-4zM460 308h4v4h-4zM580 308h4v4h-4zM596 308h4v4h-4zM576 312h4v4h-4zM604 312h4v4h-4zM612 316h4v4h-4zM472 320h4v4h-4zM620 320h4v4h-4zM476 324h4v4h-4zM632 328h4v4h-4zM480 332h4v4h-4zM640 332h4v4h-4zM648 336h4v4h-4zM484 340h4v4h-4zM488 344h12v4h-12zM544 388h12v4h-12zM544 392h4v4h-4zM556 392h4v4h-4zM544 396h4v4h-4zM560 396h4v4h-4zM544 400h4v4h-4zM548 404h4v4h-4zM548 408h8v4h-8zM548 412h8v4h-8z"/>
<path fill="#c9ff36" d="M380 256h8v4h-8zM392 260h4v4h-4zM400 264h4v4h-4zM412 272h4v4h-4zM424 280h4v4h-4zM444 296h4v4h-4zM448 300h4v4h-4zM588 304h8v4h-8zM584 308h4v4h-4zM592 308h4v4h-4zM464 312h4v4h-4zM580 312h4v4h-4zM600 312h4v4h-4zM468 316h4v4h-4zM572 316h4v4h-4zM608 316h4v4h-4zM616 320h4v4h-4zM624 324h4v4h-4zM476 328h4v4h-4zM636 332h4v4h-4zM480 336h4v4h-4zM644 336h4v4h-4zM652 340h4v4h-4zM484 344h4v4h-4zM488 348h12v4h-12zM296 372h8v4h-8zM296 376h8v4h-8zM296 380h8v4h-8zM300 384h4v4h-4zM544 384h12v4h-12zM540 388h4v4h-4zM556 388h4v4h-4zM540 392h4v4h-4zM560 392h4v4h-4zM540 396h4v4h-4zM540 400h4v4h-4zM544 404h4v4h-4z"/>
<path fill="#d0ff2f" d="M404 268h4v4h-4zM416 276h4v4h-4zM428 284h4v4h-4zM432 288h4v4h-4zM436 292h4v4h-4zM440 296h4v4h-4zM452 304h4v4h-4zM456 308h4v4h-4zM588 308h4v4h-4zM460 312h4v4h-4zM584 312h4v4h-4zM596 312h4v4h-4zM464 316h4v4h-4zM576 316h4v4h-4zM604 316h4v4h-4zM468 320h4v4h-4zM568 320h4v4h-4zM612 320h4v4h-4zM472 324h4v4h-4zM620 324h4v4h-4zM628 328h4v4h-4zM476 332h4v4h-4zM640 336h4v4h-4zM480 340h4v4h-4zM648 340h4v4h-4zM656 344h4v4h-4zM300 364h8v4h-8zM300 368h8v4h-8zM304 372h4v4h-4zM304 376h4v4h-4zM552 376h4v4h-4zM304 380h4v4h-4zM548 380h8v4h-8zM304 384h4v4h-4zM540 384h4v4h-4zM556 384h4v4h-4zM560 388h4v4h-4zM536 392h4v4h-4zM536 396h4v4h-4zM564 396h4v4h-4zM540 404h4v4h-4zM544 408h4v4h-4z"/>
<path fill="#d6ff29" d="M388 260h4v4h-4zM396 264h4v4h-4zM408 272h4v4h-4zM420 280h4v4h-4zM444 300h4v4h-4zM448 304h4v4h-4zM452 308h4v4h-4zM588 312h8v4h-8zM580 316h4v4h-4zM600 316h4v4h-4zM572 320h4v4h-4zM616 324h4v4h-4zM472 328h4v4h-4zM624 328h4v4h-4zM632 332h4v4h-4zM476 336h4v4h-4zM636 336h4v4h-4zM644 340h4v4h-4zM652 344h4v4h-4zM484 348h4v4h-4zM488 352h8v4h-8zM308 368h4v4h-4zM308 372h4v4h-4zM308 376h8v4h-8zM548 376h4v4h-4zM308 380h8v4h-8zM544 380h4v4h-4zM308 384h4v4h-4zM536 384h4v4h-4zM536 388h4v4h-4zM564 392h4v4h-4zM536 400h4v4h-4zM568 400h4v4h-4z"/>
<path fill="#ddff22" d="M400 268h4v4h-4zM412 276h4v4h-4zM424 284h4v4h-4zM428 288h4v4h-4zM432 292h4v4h-4zM436 296h4v4h-4zM440 300h4v4h-4zM444 304h4v4h-4zM456 312h4v4h-4zM460 316h4v4h-4zM584 316h16v4h-16zM464 320h4v4h-4zM576 320h8v4h-8zM608 320h4v4h-4zM468 324h4v4h-4zM516 324h4v4h-4zM568 324h8v4h-8zM620 328h4v4h-4zM628 332h4v4h-4zM640 340h4v4h-4zM480 344h4v4h-4zM500 344h4v4h-4zM496 352h4v4h-4zM308 360h4v4h-4zM308 364h4v4h-4zM312 372h4v4h-4zM544 376h4v4h-4zM316 380h4v4h-4zM540 380h4v4h-4zM556 380h4v4h-4zM532 384h4v4h-4zM560 384h4v4h-4zM532 388h4v4h-4zM564 388h4v4h-4zM532 392h4v4h-4zM568 392h4v4h-4zM532 396h4v4h-4zM568 396h4v4h-4zM536 404h4v4h-4zM540 408h4v4h-4zM544 412h4v4h-4z"/>
<path fill="#e3ff1c" d="M368 256h4v4h-4zM384 260h4v4h-4zM392 264h4v4h-4zM404 272h4v4h-4zM416 280h4v4h-4zM448 308h4v4h-4zM452 312h4v4h-4zM456 316h4v4h-4zM460 320h4v4h-4zM604 320h4v4h-4zM612 324h4v4h-4zM468 328h4v4h-4zM616 328h4v4h-4zM472 332h4v4h-4zM624 332h4v4h-4zM504 336h4v4h-4zM632 336h4v4h-4zM476 340h4v4h-4zM636 340h4v4h-4zM644 344h8v4h-8zM480 348h4v4h-4zM648 348h12v4h-12zM484 352h4v4h-4zM488 356h8v4h-8zM312 368h4v4h-4zM548 372h8v4h-8zM540 376h4v4h-4zM536 380h4v4h-4zM528 384h4v4h-4zM564 384h4v4h-4zM528 388h4v4h-4zM568 388h4v4h-4zM528 392h4v4h-4zM572 392h4v4h-4zM528 396h4v4h-4zM572 396h4v4h-4zM532 400h4v4h-4zM548 416h4v4h-4z"/>
<path fill="#e9ff16" d="M388 264h4v4h-4zM396 268h4v4h-4zM408 276h4v4h-4zM420 284h4v4h-4zM424 288h4v4h-4zM428 292h4v4h-4zM432 296h4v4h-4zM436 300h4v4h-4zM440 304h4v4h-4zM444 308h4v4h-4zM448 312h4v4h-4zM584 320h8v4h-8zM600 320h4v4h-4zM464 324h4v4h-4zM576 324h8v4h-8zM608 324h4v4h-4zM572 328h4v4h-4zM620 332h4v4h-4zM472 336h4v4h-4zM628 336h4v4h-4zM632 340h4v4h-4zM476 344h4v4h-4zM640 344h4v4h-4zM644 348h4v4h-4zM652 352h4v4h-4zM492 360h4v4h-4zM312 364h4v4h-4zM316 372h4v4h-4zM544 372h4v4h-4zM316 376h4v4h-4zM536 376h4v4h-4zM556 376h4v4h-4zM320 380h4v4h-4zM532 380h4v4h-4zM560 380h4v4h-4zM524 384h4v4h-4zM568 384h4v4h-4zM572 388h4v4h-4zM576 396h4v4h-4zM528 400h4v4h-4zM532 404h4v4h-4z"/>
<path fill="#f0ff0f" d="M392 268h4v4h-4zM400 272h4v4h-4zM412 280h4v4h-4zM432 300h4v4h-4zM436 304h4v4h-4zM440 308h4v4h-4zM452 316h4v4h-4zM456 320h4v4h-4zM592 320h8v4h-8zM460 324h4v4h-4zM604 324h4v4h-4zM464 328h4v4h-4zM612 328h4v4h-4zM468 332h4v4h-4zM616 332h4v4h-4zM624 336h4v4h-4zM472 340h4v4h-4zM628 340h4v4h-4zM636 344h4v4h-4zM500 348h4v4h-4zM640 348h4v4h-4zM648 352h4v4h-4zM484 356h4v4h-4zM652 356h4v4h-4zM488 360h4v4h-4zM316 368h4v4h-4zM548 368h4v4h-4zM540 372h4v4h-4zM320 376h4v4h-4zM528 380h4v4h-4zM564 380h28v4h-28zM572 384h28v4h-28zM524 388h4v4h-4zM576 388h16v4h-16zM524 392h4v4h-4zM576 392h12v4h-12zM524 396h4v4h-4zM580 396h4v4h-4zM524 400h4v4h-4zM528 404h4v4h-4zM532 408h8v4h-8z"/>
<path fill="#f6ff09" d="M380 260h4v4h-4zM384 264h4v4h-4zM396 272h4v4h-4zM404 276h4v4h-4zM416 284h4v4h-4zM424 292h4v4h-4zM428 296h4v4h-4zM444 312h4v4h-4zM448 316h4v4h-4zM452 320h4v4h-4zM584 324h8v4h-8zM600 324h4v4h-4zM576 328h4v4h-4zM608 328h4v4h-4zM612 332h4v4h-4zM468 336h4v4h-4zM620 336h4v4h-4zM624 340h4v4h-4zM628 344h8v4h-8zM476 348h4v4h-4zM636 348h4v4h-4zM480 352h4v4h-4zM640 352h8v4h-8zM644 356h8v4h-8zM312 360h8v4h-8zM316 364h4v4h-4zM296 368h4v4h-4zM552 368h4v4h-4zM536 372h4v4h-4zM532 376h4v4h-4zM560 376h4v4h-4zM580 376h12v4h-12zM592 380h8v4h-8zM520 388h4v4h-4zM520 392h4v4h-4zM520 396h4v4h-4zM524 404h4v4h-4zM528 408h4v4h-4zM536 412h8v4h-8z"/>
<path fill="#fdff02" d="M388 268h4v4h-4zM400 276h4v4h-4zM408 280h4v4h-4zM420 288h4v4h-4zM428 300h4v4h-4zM432 304h4v4h-4zM436 308h4v4h-4zM440 312h4v4h-4zM444 316h4v4h-4zM448 320h4v4h-4zM456 324h4v4h-4zM520 324h8v4h-8zM592 324h8v4h-8zM460 328h4v4h-4zM512 328h20v4h-20zM580 328h8v4h-8zM604 328h4v4h-4zM464 332h4v4h-4zM508 332h28v4h-28zM572 332h8v4h-8zM508 336h24v4h-24zM616 336h4v4h-4zM468 340h4v4h-4zM504 340h20v4h-20zM620 340h4v4h-4zM472 344h4v4h-4zM504 344h12v4h-12zM624 344h4v4h-4zM628 348h8v4h-8zM632 352h8v4h-8zM496 356h4v4h-4zM640 356h4v4h-4zM484 360h4v4h-4zM644 360h8v4h-8zM488 364h8v4h-8zM536 368h12v4h-12zM532 372h4v4h-4zM556 372h4v4h-4zM580 372h12v4h-12zM528 376h4v4h-4zM564 376h16v4h-16zM592 376h12v4h-12zM600 380h4v4h-4zM520 400h4v4h-4zM520 404h4v4h-4zM524 408h4v4h-4zM528 412h8v4h-8zM536 416h12v4h-12z"/>
<path fill="#fffb00" d="M364 256h4v4h-4zM380 264h4v4h-4zM392 272h4v4h-4zM404 280h4v4h-4zM412 284h4v4h-4zM424 296h4v4h-4zM432 308h4v4h-4zM436 312h4v4h-4zM440 316h4v4h-4zM452 324h4v4h-4zM456 328h4v4h-4zM600 328h4v4h-4zM460 332h4v4h-4zM608 332h4v4h-4zM464 336h4v4h-4zM532 336h8v4h-8zM612 336h4v4h-4zM524 340h20v4h-20zM616 340h4v4h-4zM516 344h24v4h-24zM620 344h4v4h-4zM508 348h20v4h-20zM624 348h4v4h-4zM628 352h4v4h-4zM480 356h4v4h-4zM632 356h8v4h-8zM304 360h4v4h-4zM496 360h4v4h-4zM636 360h8v4h-8zM536 364h16v4h-16zM640 364h8v4h-8zM532 368h4v4h-4zM584 368h4v4h-4zM644 368h4v4h-4zM320 372h4v4h-4zM528 372h4v4h-4zM560 372h20v4h-20zM592 372h12v4h-12zM604 376h8v4h-8zM524 380h4v4h-4zM604 380h4v4h-4zM520 384h4v4h-4zM516 388h4v4h-4zM516 392h4v4h-4zM516 396h4v4h-4zM516 400h4v4h-4zM516 404h4v4h-4zM520 408h4v4h-4zM524 412h4v4h-4zM528 416h8v4h-8zM532 420h20v4h-20zM540 424h12v4h-12zM544 428h4v4h-4z"/>
<path fill="#fff500" d="M376 260h4v4h-4zM384 268h4v4h-4zM388 272h4v4h-4zM396 276h4v4h-4zM400 280h4v4h-4zM408 284h4v4h-4zM408 288h4v4h-4zM416 288h4v4h-4zM420 292h4v4h-4zM428 304h4v4h-4zM444 320h4v4h-4zM448 324h4v4h-4zM452 328h4v4h-4zM588 328h12v4h-12zM580 332h8v4h-8zM604 332h4v4h-4zM460 336h4v4h-4zM576 336h4v4h-4zM608 336h4v4h-4zM464 340h4v4h-4zM612 340h4v4h-4zM468 344h4v4h-4zM540 344h4v4h-4zM616 344h4v4h-4zM472 348h4v4h-4zM504 348h4v4h-4zM528 348h20v4h-20zM620 348h4v4h-4zM476 352h4v4h-4zM516 352h36v4h-36zM624 352h4v4h-4zM524 356h28v4h-28zM628 356h4v4h-4zM320 360h4v4h-4zM528 360h28v4h-28zM632 360h4v4h-4zM320 364h4v4h-4zM496 364h4v4h-4zM528 364h8v4h-8zM552 364h4v4h-4zM580 364h8v4h-8zM636 364h4v4h-4zM320 368h4v4h-4zM492 368h8v4h-8zM524 368h8v4h-8zM556 368h8v4h-8zM568 368h16v4h-16zM588 368h20v4h-20zM524 372h4v4h-4zM604 372h8v4h-8zM524 376h4v4h-4zM516 384h4v4h-4zM512 388h4v4h-4zM512 392h4v4h-4zM512 396h4v4h-4zM512 400h4v4h-4zM572 400h4v4h-4zM516 408h4v4h-4zM520 412h4v4h-4zM520 416h8v4h-8zM524 420h8v4h-8zM528 424h12v4h-12zM532 428h12v4h-12zM536 432h12v4h-12z"/>
<path fill="#ffee00" d="M376 264h4v4h-4zM380 268h4v4h-4zM392 276h4v4h-4zM396 280h4v4h-4zM400 284h8v4h-8zM404 288h4v4h-4zM412 288h4v4h-4zM424 300h4v4h-4zM428 308h4v4h-4zM432 312h4v4h-4zM436 316h4v4h-4zM440 320h4v4h-4zM444 324h4v4h-4zM448 328h4v4h-4zM456 332h4v4h-4zM600 332h4v4h-4zM572 336h4v4h-4zM580 336h4v4h-4zM604 336h4v4h-4zM612 344h4v4h-4zM560 348h8v4h-8zM616 348h4v4h-4zM508 352h8v4h-8zM556 352h12v4h-12zM616 352h8v4h-8zM512 356h12v4h-12zM552 356h24v4h-24zM620 356h8v4h-8zM516 360h12v4h-12zM556 360h32v4h-32zM624 360h8v4h-8zM484 364h4v4h-4zM516 364h12v4h-12zM556 364h24v4h-24zM588 364h16v4h-16zM628 364h8v4h-8zM488 368h4v4h-4zM516 368h8v4h-8zM564 368h4v4h-4zM608 368h4v4h-4zM640 368h4v4h-4zM516 372h8v4h-8zM516 376h8v4h-8zM512 380h12v4h-12zM512 384h4v4h-4zM592 388h4v4h-4zM508 392h4v4h-4zM588 392h4v4h-4zM508 396h4v4h-4zM512 404h4v4h-4zM512 408h4v4h-4zM516 412h4v4h-4zM516 416h4v4h-4zM520 420h4v4h-4zM520 424h8v4h-8zM524 428h8v4h-8zM524 432h12v4h-12zM524 436h20v4h-20zM528 440h12v4h-12zM532 444h4v4h-4z"/>
<path fill="#ffe800" d="M372 260h4v4h-4zM372 264h4v4h-4zM376 268h4v4h-4zM384 272h4v4h-4zM388 276h4v4h-4zM392 280h4v4h-4zM396 284h4v4h-4zM396 288h8v4h-8zM392 292h4v4h-4zM416 292h4v4h-4zM420 296h4v4h-4zM424 304h4v4h-4zM428 312h4v4h-4zM432 316h4v4h-4zM436 320h4v4h-4zM440 324h4v4h-4zM452 332h4v4h-4zM588 332h12v4h-12zM456 336h4v4h-4zM460 340h4v4h-4zM568 340h16v4h-16zM608 340h4v4h-4zM464 344h4v4h-4zM564 344h20v4h-20zM608 344h4v4h-4zM468 348h4v4h-4zM568 348h16v4h-16zM612 348h4v4h-4zM472 352h4v4h-4zM500 352h8v4h-8zM568 352h16v4h-16zM612 352h4v4h-4zM476 356h4v4h-4zM500 356h12v4h-12zM576 356h16v4h-16zM612 356h8v4h-8zM480 360h4v4h-4zM500 360h16v4h-16zM588 360h36v4h-36zM500 364h16v4h-16zM604 364h24v4h-24zM500 368h16v4h-16zM612 368h4v4h-4zM628 368h12v4h-12zM492 372h8v4h-8zM504 372h12v4h-12zM636 372h8v4h-8zM508 376h8v4h-8zM508 380h4v4h-4zM508 384h4v4h-4zM508 388h4v4h-4zM508 400h4v4h-4zM508 404h4v4h-4zM508 408h4v4h-4zM512 412h4v4h-4zM512 416h4v4h-4zM516 420h4v4h-4zM516 424h4v4h-4zM516 428h8v4h-8zM516 432h8v4h-8zM520 436h4v4h-4zM520 440h8v4h-8zM524 444h8v4h-8zM528 448h4v4h-4z"/>
<path fill="#ffe100" d="M360 256h4v4h-4zM356 260h16v4h-16zM352 264h20v4h-20zM352 268h24v4h-24zM356 272h28v4h-28zM360 276h28v4h-28zM364 280h28v4h-28zM368 284h28v4h-28zM376 288h20v4h-20zM380 292h12v4h-12zM384 296h8v4h-8zM420 300h4v4h-4zM424 308h4v4h-4zM444 328h4v4h-4zM448 332h4v4h-4zM452 336h4v4h-4zM584 336h8v4h-8zM596 336h8v4h-8zM456 340h4v4h-4zM604 340h4v4h-4zM460 344h4v4h-4zM604 344h4v4h-4zM464 348h4v4h-4zM584 348h4v4h-4zM608 348h4v4h-4zM584 352h8v4h-8zM604 352h8v4h-8zM592 356h20v4h-20zM484 368h4v4h-4zM616 368h12v4h-12zM488 372h4v4h-4zM500 372h4v4h-4zM612 372h24v4h-24zM292 376h4v4h-4zM496 376h12v4h-12zM632 376h12v4h-12zM500 380h8v4h-8zM504 384h4v4h-4zM504 388h4v4h-4zM504 392h4v4h-4zM504 396h4v4h-4zM504 400h4v4h-4zM504 404h4v4h-4zM504 408h4v4h-4zM508 412h4v4h-4zM508 416h4v4h-4zM508 420h8v4h-8zM512 424h4v4h-4zM512 428h4v4h-4zM512 432h4v4h-4zM516 436h4v4h-4zM516 440h4v4h-4zM520 444h4v4h-4zM524 448h4v4h-4z"/>
<path fill="#ffdb00" d="M396 292h4v4h-4zM416 296h4v4h-4zM420 304h4v4h-4zM424 312h4v4h-4zM428 316h4v4h-4zM432 320h4v4h-4zM436 324h4v4h-4zM440 328h4v4h-4zM444 332h4v4h-4zM448 336h4v4h-4zM592 336h4v4h-4zM452 340h4v4h-4zM584 340h4v4h-4zM596 340h8v4h-8zM456 344h4v4h-4zM584 344h4v4h-4zM600 344h4v4h-4zM588 348h20v4h-20zM468 352h4v4h-4zM592 352h12v4h-12zM324 364h4v4h-4zM480 364h4v4h-4zM324 368h4v4h-4zM492 376h4v4h-4zM612 376h20v4h-20zM496 380h4v4h-4zM608 380h4v4h-4zM640 380h4v4h-4zM500 384h4v4h-4zM500 388h4v4h-4zM500 392h4v4h-4zM500 396h4v4h-4zM500 400h4v4h-4zM500 404h4v4h-4zM500 408h4v4h-4zM500 412h8v4h-8zM504 416h4v4h-4zM504 420h4v4h-4zM508 424h4v4h-4zM508 428h4v4h-4zM508 432h4v4h-4zM512 436h4v4h-4zM512 440h4v4h-4zM516 444h4v4h-4zM520 448h4v4h-4z"/>
<path fill="#ffd500" d="M400 292h4v4h-4zM412 292h4v4h-4zM416 300h4v4h-4zM420 308h4v4h-4zM424 316h4v4h-4zM428 320h4v4h-4zM432 324h4v4h-4zM436 328h4v4h-4zM440 332h4v4h-4zM444 336h4v4h-4zM448 340h4v4h-4zM588 340h8v4h-8zM452 344h4v4h-4zM588 344h12v4h-12zM460 348h4v4h-4zM472 356h4v4h-4zM476 360h4v4h-4zM612 380h28v4h-28zM496 384h4v4h-4zM632 384h12v4h-12zM496 388h4v4h-4zM496 392h4v4h-4zM496 396h4v4h-4zM496 400h4v4h-4zM496 404h4v4h-4zM496 408h4v4h-4zM492 412h8v4h-8zM488 416h16v4h-16zM480 420h24v4h-24zM496 424h12v4h-12zM500 428h8v4h-8zM504 432h4v4h-4zM508 436h4v4h-4zM508 440h4v4h-4zM512 444h4v4h-4zM516 448h4v4h-4zM528 452h4v4h-4z"/>
<path fill="#ffce00" d="M412 296h4v4h-4zM416 304h4v4h-4zM420 312h4v4h-4zM424 320h4v4h-4zM428 324h4v4h-4zM432 328h4v4h-4zM436 332h4v4h-4zM440 336h4v4h-4zM444 340h4v4h-4zM448 344h4v4h-4zM456 348h4v4h-4zM464 352h4v4h-4zM480 368h4v4h-4zM324 372h4v4h-4zM484 372h4v4h-4zM488 376h4v4h-4zM492 380h4v4h-4zM492 384h4v4h-4zM600 384h4v4h-4zM612 384h20v4h-20zM636 388h4v4h-4zM584 396h4v4h-4zM492 404h4v4h-4zM488 408h8v4h-8zM480 412h12v4h-12zM480 416h8v4h-8zM480 424h16v4h-16zM488 428h12v4h-12zM496 432h8v4h-8zM500 436h8v4h-8zM504 440h4v4h-4zM508 444h4v4h-4zM512 448h4v4h-4zM524 452h4v4h-4z"/>
<path fill="#ffc800" d="M408 292h4v4h-4zM392 296h4v4h-4zM412 300h4v4h-4zM416 308h4v4h-4zM416 312h4v4h-4zM420 316h4v4h-4zM420 320h4v4h-4zM424 324h4v4h-4zM428 328h4v4h-4zM432 332h4v4h-4zM436 336h4v4h-4zM440 340h4v4h-4zM444 344h4v4h-4zM452 348h4v4h-4zM460 352h4v4h-4zM468 356h4v4h-4zM324 360h4v4h-4zM476 364h4v4h-4zM324 376h4v4h-4zM488 380h4v4h-4zM492 388h4v4h-4zM616 388h20v4h-20zM492 392h4v4h-4zM492 396h4v4h-4zM492 400h4v4h-4zM488 404h4v4h-4zM484 408h4v4h-4zM480 428h8v4h-8zM484 432h12v4h-12zM492 436h8v4h-8zM500 440h4v4h-4zM504 444h4v4h-4zM508 448h4v4h-4zM512 452h12v4h-12z"/>
<path fill="#ffc100" d="M404 292h4v4h-4zM408 296h4v4h-4zM408 300h4v4h-4zM412 304h4v4h-4zM412 308h4v4h-4zM416 316h4v4h-4zM420 324h4v4h-4zM424 328h4v4h-4zM428 332h4v4h-4zM436 340h4v4h-4zM440 344h4v4h-4zM444 348h8v4h-8zM452 352h8v4h-8zM464 356h4v4h-4zM472 360h4v4h-4zM480 372h4v4h-4zM484 376h4v4h-4zM488 384h4v4h-4zM620 392h20v4h-20zM628 396h12v4h-12zM488 400h4v4h-4zM476 432h8v4h-8zM484 436h8v4h-8zM488 440h12v4h-12zM496 444h8v4h-8zM500 448h8v4h-8zM504 452h8v4h-8zM512 456h20v4h-20z"/>
<path fill="#ffbb00" d="M396 296h12v4h-12zM388 300h20v4h-20zM408 304h4v4h-4zM408 308h4v4h-4zM412 312h4v4h-4zM412 316h4v4h-4zM416 320h4v4h-4zM416 324h4v4h-4zM420 328h4v4h-4zM424 332h4v4h-4zM432 336h4v4h-4zM432 340h4v4h-4zM436 344h4v4h-4zM440 348h4v4h-4zM444 352h8v4h-8zM460 356h4v4h-4zM328 364h4v4h-4zM328 368h4v4h-4zM476 368h4v4h-4zM484 380h4v4h-4zM488 388h4v4h-4zM488 392h4v4h-4zM616 392h4v4h-4zM488 396h4v4h-4zM624 396h4v4h-4zM484 404h4v4h-4zM480 436h4v4h-4zM484 440h4v4h-4zM488 444h8v4h-8zM492 448h8v4h-8zM496 452h8v4h-8zM500 456h12v4h-12zM508 460h24v4h-24zM512 464h20v4h-20zM516 468h12v4h-12zM516 472h8v4h-8z"/>
<path fill="#ffb400" d="M388 304h20v4h-20zM392 308h16v4h-16zM404 312h8v4h-8zM408 316h4v4h-4zM412 320h4v4h-4zM412 324h4v4h-4zM416 328h4v4h-4zM420 332h4v4h-4zM424 336h8v4h-8zM428 340h4v4h-4zM432 344h4v4h-4zM436 348h4v4h-4zM436 352h8v4h-8zM432 356h28v4h-28zM432 360h4v4h-4zM468 360h4v4h-4zM472 364h4v4h-4zM292 372h4v4h-4zM480 376h4v4h-4zM484 384h4v4h-4zM596 388h4v4h-4zM620 396h4v4h-4zM484 400h4v4h-4zM624 400h4v4h-4zM480 408h4v4h-4zM476 412h4v4h-4zM476 436h4v4h-4zM476 440h8v4h-8zM480 444h8v4h-8zM484 448h8v4h-8zM488 452h8v4h-8zM496 456h4v4h-4zM500 460h8v4h-8zM504 464h8v4h-8zM504 468h12v4h-12zM508 472h8v4h-8zM512 476h8v4h-8z"/>
<path fill="#ffae00" d="M268 304h8v4h-8zM264 308h12v4h-12zM388 308h4v4h-4zM260 312h16v4h-16zM388 312h16v4h-16zM256 316h16v4h-16zM392 316h16v4h-16zM260 320h8v4h-8zM400 320h12v4h-12zM408 324h4v4h-4zM412 328h4v4h-4zM416 332h4v4h-4zM420 336h4v4h-4zM424 340h4v4h-4zM428 344h4v4h-4zM428 348h8v4h-8zM432 352h4v4h-4zM436 360h16v4h-16zM460 360h8v4h-8zM296 364h4v4h-4zM436 364h4v4h-4zM476 372h4v4h-4zM260 376h16v4h-16zM264 380h12v4h-12zM268 384h8v4h-8zM272 388h4v4h-4zM484 388h4v4h-4zM612 388h4v4h-4zM484 392h4v4h-4zM484 396h4v4h-4zM616 396h4v4h-4zM620 400h4v4h-4zM628 400h4v4h-4zM480 404h4v4h-4zM472 440h4v4h-4zM476 444h4v4h-4zM476 448h8v4h-8zM480 452h8v4h-8zM480 456h16v4h-16zM488 460h12v4h-12zM492 464h12v4h-12zM500 468h4v4h-4zM504 472h4v4h-4zM508 476h4v4h-4zM512 480h4v4h-4z"/>
<path fill="#ffa800" d="M368 300h12v4h-12zM360 304h24v4h-24zM360 308h28v4h-28zM364 312h24v4h-24zM272 316h4v4h-4zM368 316h24v4h-24zM268 320h4v4h-4zM372 320h16v4h-16zM396 320h4v4h-4zM264 324h4v4h-4zM376 324h4v4h-4zM400 324h8v4h-8zM404 328h8v4h-8zM408 332h8v4h-8zM412 336h8v4h-8zM416 340h8v4h-8zM420 344h8v4h-8zM424 348h4v4h-4zM428 352h4v4h-4zM428 356h4v4h-4zM300 360h4v4h-4zM452 360h8v4h-8zM268 364h4v4h-4zM440 364h8v4h-8zM468 364h4v4h-4zM264 368h12v4h-12zM472 368h4v4h-4zM260 372h20v4h-20zM328 372h4v4h-4zM276 376h8v4h-8zM328 376h4v4h-4zM476 376h4v4h-4zM276 380h12v4h-12zM324 380h4v4h-4zM480 380h4v4h-4zM276 384h12v4h-12zM276 388h8v4h-8zM612 392h4v4h-4zM612 396h4v4h-4zM480 400h4v4h-4zM616 400h4v4h-4zM632 400h4v4h-4zM476 408h4v4h-4zM468 444h8v4h-8zM468 448h8v4h-8zM472 452h8v4h-8zM476 456h4v4h-4zM476 460h12v4h-12zM480 464h12v4h-12zM488 468h12v4h-12zM492 472h12v4h-12zM496 476h12v4h-12zM504 480h8v4h-8zM508 484h4v4h-4z"/>
<path fill="#ffa100" d="M356 308h4v4h-4zM356 312h8v4h-8zM360 316h8v4h-8zM364 320h8v4h-8zM392 320h4v4h-4zM372 324h4v4h-4zM380 324h4v4h-4zM396 324h4v4h-4zM400 328h4v4h-4zM400 332h8v4h-8zM408 336h4v4h-4zM412 340h4v4h-4zM416 344h4v4h-4zM420 348h4v4h-4zM424 352h4v4h-4zM316 356h4v4h-4zM272 364h4v4h-4zM432 364h4v4h-4zM448 364h20v4h-20zM276 368h4v4h-4zM440 368h8v4h-8zM280 372h4v4h-4zM472 372h4v4h-4zM284 376h4v4h-4zM288 380h4v4h-4zM480 384h4v4h-4zM480 388h4v4h-4zM480 392h4v4h-4zM480 396h4v4h-4zM476 404h4v4h-4zM620 404h4v4h-4zM464 444h4v4h-4zM468 452h4v4h-4zM472 456h4v4h-4zM472 460h4v4h-4zM472 464h8v4h-8zM476 468h12v4h-12zM480 472h12v4h-12zM488 476h8v4h-8zM492 480h12v4h-12zM496 484h12v4h-12zM504 488h4v4h-4z"/>
<path fill="#ff9b00" d="M332 300h4v4h-4zM276 304h4v4h-4zM328 304h20v4h-20zM276 308h4v4h-4zM324 308h28v4h-28zM324 312h32v4h-32zM328 316h24v4h-24zM356 316h4v4h-4zM272 320h4v4h-4zM344 320h4v4h-4zM356 320h8v4h-8zM388 320h4v4h-4zM268 324h4v4h-4zM356 324h16v4h-16zM384 324h12v4h-12zM372 328h28v4h-28zM388 332h12v4h-12zM396 336h12v4h-12zM400 340h12v4h-12zM404 344h12v4h-12zM408 348h12v4h-12zM412 352h12v4h-12zM312 356h4v4h-4zM416 356h12v4h-12zM272 360h4v4h-4zM328 360h4v4h-4zM420 360h12v4h-12zM276 364h4v4h-4zM332 364h4v4h-4zM412 364h20v4h-20zM280 368h4v4h-4zM332 368h4v4h-4zM408 368h32v4h-32zM448 368h8v4h-8zM468 368h4v4h-4zM284 372h4v4h-4zM404 372h44v4h-44zM288 376h4v4h-4zM400 376h32v4h-32zM400 380h28v4h-28zM476 380h4v4h-4zM404 384h24v4h-24zM604 384h8v4h-8zM600 388h12v4h-12zM604 392h8v4h-8zM604 396h8v4h-8zM448 400h8v4h-8zM476 400h4v4h-4zM608 400h8v4h-8zM444 404h20v4h-20zM616 404h4v4h-4zM624 404h4v4h-4zM444 408h24v4h-24zM448 412h24v4h-24zM460 416h12v4h-12zM464 448h4v4h-4zM464 452h4v4h-4zM464 456h8v4h-8zM468 460h4v4h-4zM468 464h4v4h-4zM468 468h8v4h-8zM472 472h8v4h-8zM476 476h12v4h-12zM480 480h12v4h-12zM484 484h12v4h-12zM488 488h16v4h-16zM492 492h12v4h-12z"/>
<path fill="#ff9400" d="M276 312h4v4h-4zM320 312h4v4h-4zM276 316h4v4h-4zM324 316h4v4h-4zM352 316h4v4h-4zM328 320h16v4h-16zM348 320h8v4h-8zM344 324h12v4h-12zM344 328h28v4h-28zM352 332h36v4h-36zM380 336h16v4h-16zM384 340h16v4h-16zM392 344h12v4h-12zM396 348h12v4h-12zM400 352h12v4h-12zM272 356h4v4h-4zM400 356h16v4h-16zM276 360h4v4h-4zM400 360h20v4h-20zM280 364h4v4h-4zM396 364h16v4h-16zM284 368h4v4h-4zM396 368h12v4h-12zM456 368h12v4h-12zM332 372h4v4h-4zM392 372h12v4h-12zM448 372h8v4h-8zM468 372h4v4h-4zM392 376h8v4h-8zM432 376h20v4h-20zM472 376h4v4h-4zM396 380h4v4h-4zM428 380h20v4h-20zM396 384h8v4h-8zM428 384h16v4h-16zM476 384h4v4h-4zM396 388h44v4h-44zM412 392h12v4h-12zM440 392h4v4h-4zM592 392h12v4h-12zM436 396h12v4h-12zM476 396h4v4h-4zM588 396h16v4h-16zM436 400h12v4h-12zM596 400h12v4h-12zM636 400h4v4h-4zM436 404h8v4h-8zM608 404h8v4h-8zM628 404h4v4h-4zM436 408h8v4h-8zM468 408h8v4h-8zM612 408h16v4h-16zM436 412h12v4h-12zM440 416h20v4h-20zM444 420h28v4h-28zM452 424h20v4h-20zM464 428h4v4h-4zM460 452h4v4h-4zM464 460h4v4h-4zM464 464h4v4h-4zM464 468h4v4h-4zM464 472h8v4h-8zM468 476h8v4h-8zM472 480h8v4h-8zM472 484h12v4h-12zM476 488h12v4h-12zM480 492h12v4h-12zM480 496h20v4h-20zM492 500h8v4h-8z"/>
<path fill="#ff8e00" d="M276 320h4v4h-4zM272 324h4v4h-4zM332 324h12v4h-12zM268 328h4v4h-4zM336 328h8v4h-8zM340 332h12v4h-12zM344 336h36v4h-36zM384 344h8v4h-8zM388 348h8v4h-8zM388 352h12v4h-12zM388 356h12v4h-12zM280 360h4v4h-4zM388 360h12v4h-12zM284 364h4v4h-4zM388 364h8v4h-8zM288 368h4v4h-4zM384 368h12v4h-12zM288 372h4v4h-4zM388 372h4v4h-4zM456 372h12v4h-12zM388 376h4v4h-4zM452 376h4v4h-4zM468 376h4v4h-4zM388 380h8v4h-8zM448 380h4v4h-4zM472 380h4v4h-4zM392 384h4v4h-4zM444 384h4v4h-4zM392 388h4v4h-4zM440 388h8v4h-8zM476 388h4v4h-4zM396 392h16v4h-16zM424 392h16v4h-16zM476 392h4v4h-4zM404 396h32v4h-32zM448 396h4v4h-4zM420 400h16v4h-16zM456 400h4v4h-4zM592 400h4v4h-4zM424 404h12v4h-12zM464 404h4v4h-4zM472 404h4v4h-4zM600 404h8v4h-8zM632 404h4v4h-4zM428 408h8v4h-8zM608 408h4v4h-4zM628 408h4v4h-4zM432 412h4v4h-4zM612 412h16v4h-16zM432 416h8v4h-8zM436 420h8v4h-8zM444 424h8v4h-8zM448 428h16v4h-16zM456 432h8v4h-8zM460 448h4v4h-4zM460 456h4v4h-4zM460 460h4v4h-4zM460 464h4v4h-4zM460 468h4v4h-4zM460 472h4v4h-4zM460 476h8v4h-8zM464 480h8v4h-8zM468 484h4v4h-4zM468 488h8v4h-8zM472 492h8v4h-8zM472 496h8v4h-8zM472 500h20v4h-20zM476 504h24v4h-24zM480 508h20v4h-20zM484 512h16v4h-16zM488 516h8v4h-8z"/>
<path fill="#ff8800" d="M280 304h4v4h-4zM280 308h4v4h-4zM280 312h4v4h-4zM280 316h4v4h-4zM276 324h4v4h-4zM332 328h4v4h-4zM332 332h8v4h-8zM336 336h8v4h-8zM340 340h32v4h-32zM380 340h4v4h-4zM352 344h16v4h-16zM380 344h4v4h-4zM380 348h8v4h-8zM380 352h8v4h-8zM276 356h4v4h-4zM380 356h8v4h-8zM284 360h4v4h-4zM332 360h4v4h-4zM380 360h8v4h-8zM288 364h4v4h-4zM336 364h4v4h-4zM380 364h8v4h-8zM292 368h4v4h-4zM380 368h4v4h-4zM380 372h8v4h-8zM384 376h4v4h-4zM456 376h12v4h-12zM384 380h4v4h-4zM452 380h8v4h-8zM468 380h4v4h-4zM388 384h4v4h-4zM448 384h8v4h-8zM472 384h4v4h-4zM388 388h4v4h-4zM448 388h4v4h-4zM392 392h4v4h-4zM444 392h4v4h-4zM396 396h8v4h-8zM472 396h4v4h-4zM404 400h16v4h-16zM460 400h4v4h-4zM472 400h4v4h-4zM412 404h12v4h-12zM420 408h8v4h-8zM604 408h4v4h-4zM632 408h4v4h-4zM424 412h8v4h-8zM608 412h4v4h-4zM628 412h4v4h-4zM428 416h4v4h-4zM612 416h20v4h-20zM432 420h4v4h-4zM436 424h8v4h-8zM440 428h8v4h-8zM444 432h12v4h-12zM452 436h8v4h-8zM456 440h4v4h-4zM456 456h4v4h-4zM456 460h4v4h-4zM456 464h4v4h-4zM456 468h4v4h-4zM456 472h4v4h-4zM456 476h4v4h-4zM456 480h8v4h-8zM460 484h8v4h-8zM464 488h4v4h-4zM464 492h8v4h-8zM468 496h4v4h-4zM468 500h4v4h-4zM468 504h8v4h-8zM472 508h8v4h-8zM472 512h12v4h-12zM476 516h12v4h-12zM484 520h8v4h-8z"/>
<path fill="#ff8100" d="M284 304h4v4h-4zM284 308h8v4h-8zM284 312h4v4h-4zM284 316h4v4h-4zM280 320h4v4h-4zM328 324h4v4h-4zM328 328h4v4h-4zM324 332h8v4h-8zM324 336h12v4h-12zM324 340h16v4h-16zM372 340h8v4h-8zM328 344h24v4h-24zM368 344h12v4h-12zM328 348h52v4h-52zM328 352h8v4h-8zM368 352h12v4h-12zM280 356h4v4h-4zM328 356h4v4h-4zM372 356h8v4h-8zM288 360h8v4h-8zM336 360h4v4h-4zM376 360h4v4h-4zM292 364h4v4h-4zM376 364h4v4h-4zM336 368h4v4h-4zM376 368h4v4h-4zM380 376h4v4h-4zM380 380h4v4h-4zM460 380h8v4h-8zM384 384h4v4h-4zM456 384h4v4h-4zM468 384h4v4h-4zM384 388h4v4h-4zM452 388h4v4h-4zM472 388h4v4h-4zM388 392h4v4h-4zM448 392h4v4h-4zM472 392h4v4h-4zM392 396h4v4h-4zM452 396h4v4h-4zM396 400h8v4h-8zM468 400h4v4h-4zM588 400h4v4h-4zM640 400h4v4h-4zM404 404h8v4h-8zM468 404h4v4h-4zM636 404h8v4h-8zM408 408h12v4h-12zM600 408h4v4h-4zM636 408h4v4h-4zM416 412h8v4h-8zM600 412h8v4h-8zM632 412h8v4h-8zM420 416h8v4h-8zM604 416h8v4h-8zM632 416h4v4h-4zM424 420h8v4h-8zM612 420h20v4h-20zM428 424h8v4h-8zM432 428h8v4h-8zM436 432h8v4h-8zM444 436h8v4h-8zM452 440h4v4h-4zM456 452h4v4h-4zM452 456h4v4h-4zM452 460h4v4h-4zM452 464h4v4h-4zM448 468h8v4h-8zM448 472h8v4h-8zM452 476h4v4h-4zM452 480h4v4h-4zM456 484h4v4h-4zM456 488h8v4h-8zM460 492h4v4h-4zM460 496h8v4h-8zM464 500h4v4h-4zM464 504h4v4h-4zM464 508h8v4h-8zM468 512h4v4h-4zM468 516h8v4h-8zM472 520h12v4h-12zM476 524h16v4h-16z"/>
<path fill="#ff7b00" d="M288 312h4v4h-4zM316 316h8v4h-8zM284 320h4v4h-4zM316 320h12v4h-12zM280 324h4v4h-4zM316 324h12v4h-12zM272 328h4v4h-4zM316 328h12v4h-12zM316 332h8v4h-8zM316 336h8v4h-8zM316 340h8v4h-8zM316 344h12v4h-12zM316 348h12v4h-12zM316 352h12v4h-12zM336 352h32v4h-32zM284 356h16v4h-16zM320 356h8v4h-8zM332 356h12v4h-12zM364 356h8v4h-8zM296 360h4v4h-4zM340 360h4v4h-4zM368 360h8v4h-8zM340 364h4v4h-4zM372 364h4v4h-4zM372 368h4v4h-4zM336 372h4v4h-4zM376 372h4v4h-4zM376 376h4v4h-4zM328 380h4v4h-4zM380 384h4v4h-4zM460 384h8v4h-8zM380 388h4v4h-4zM456 388h4v4h-4zM468 388h4v4h-4zM384 392h4v4h-4zM452 392h4v4h-4zM388 396h4v4h-4zM392 400h4v4h-4zM396 404h8v4h-8zM588 404h12v4h-12zM644 404h4v4h-4zM404 408h4v4h-4zM588 408h12v4h-12zM640 408h8v4h-8zM408 412h8v4h-8zM592 412h8v4h-8zM640 412h4v4h-4zM412 416h8v4h-8zM596 416h8v4h-8zM636 416h4v4h-4zM416 420h8v4h-8zM600 420h12v4h-12zM632 420h4v4h-4zM420 424h8v4h-8zM608 424h24v4h-24zM424 428h8v4h-8zM428 432h8v4h-8zM432 436h12v4h-12zM440 440h12v4h-12zM456 448h4v4h-4zM452 452h4v4h-4zM448 456h4v4h-4zM444 460h8v4h-8zM444 464h8v4h-8zM444 468h4v4h-4zM444 472h4v4h-4zM444 476h8v4h-8zM448 480h4v4h-4zM448 484h8v4h-8zM452 488h4v4h-4zM456 492h4v4h-4zM456 496h4v4h-4zM460 500h4v4h-4zM460 504h4v4h-4zM460 508h4v4h-4zM464 512h4v4h-4zM464 516h4v4h-4zM468 520h4v4h-4zM468 524h8v4h-8zM472 528h24v4h-24zM472 532h20v4h-20zM472 536h16v4h-16zM476 540h8v4h-8z"/>
<path fill="#ff7400" d="M292 312h4v4h-4zM288 316h12v4h-12zM304 316h12v4h-12zM288 320h8v4h-8zM304 320h12v4h-12zM284 324h4v4h-4zM304 324h12v4h-12zM276 328h8v4h-8zM304 328h12v4h-12zM304 332h12v4h-12zM304 336h12v4h-12zM304 340h12v4h-12zM300 344h16v4h-16zM272 348h44v4h-44zM272 352h44v4h-44zM300 356h12v4h-12zM344 356h20v4h-20zM344 360h4v4h-4zM360 360h8v4h-8zM364 364h8v4h-8zM340 368h4v4h-4zM368 368h4v4h-4zM372 372h4v4h-4zM332 376h4v4h-4zM372 376h4v4h-4zM376 380h4v4h-4zM376 384h4v4h-4zM460 388h8v4h-8zM380 392h4v4h-4zM456 392h16v4h-16zM384 396h4v4h-4zM456 396h4v4h-4zM468 396h4v4h-4zM384 400h8v4h-8zM580 400h8v4h-8zM388 404h8v4h-8zM576 404h12v4h-12zM396 408h8v4h-8zM572 408h16v4h-16zM648 408h4v4h-4zM400 412h8v4h-8zM572 412h20v4h-20zM644 412h4v4h-4zM404 416h8v4h-8zM584 416h12v4h-12zM640 416h4v4h-4zM408 420h8v4h-8zM592 420h8v4h-8zM636 420h4v4h-4zM408 424h12v4h-12zM596 424h12v4h-12zM632 424h4v4h-4zM412 428h12v4h-12zM608 428h28v4h-28zM416 432h12v4h-12zM620 432h12v4h-12zM424 436h8v4h-8zM428 440h12v4h-12zM432 444h28v4h-28zM436 448h20v4h-20zM440 452h12v4h-12zM440 456h8v4h-8zM440 460h4v4h-4zM440 464h4v4h-4zM440 468h4v4h-4zM440 472h4v4h-4zM444 480h4v4h-4zM444 484h4v4h-4zM448 488h4v4h-4zM448 492h8v4h-8zM452 496h4v4h-4zM456 500h4v4h-4zM456 504h4v4h-4zM456 508h4v4h-4zM460 512h4v4h-4zM460 516h4v4h-4zM464 520h4v4h-4zM464 524h4v4h-4zM468 528h4v4h-4zM468 532h4v4h-4zM468 536h4v4h-4z"/>
<path fill="#ff6e00" d="M300 316h4v4h-4zM296 320h8v4h-8zM288 324h16v4h-16zM284 328h20v4h-20zM268 332h36v4h-36zM268 336h36v4h-36zM272 340h32v4h-32zM272 344h28v4h-28zM348 360h12v4h-12zM344 364h4v4h-4zM360 364h4v4h-4zM364 368h4v4h-4zM364 372h8v4h-8zM368 376h4v4h-4zM372 380h4v4h-4zM372 384h4v4h-4zM376 388h4v4h-4zM376 392h4v4h-4zM380 396h4v4h-4zM460 396h8v4h-8zM380 400h4v4h-4zM464 400h4v4h-4zM384 404h4v4h-4zM388 408h8v4h-8zM396 412h4v4h-4zM648 412h8v4h-8zM400 416h4v4h-4zM572 416h12v4h-12zM644 416h8v4h-8zM400 420h8v4h-8zM568 420h24v4h-24zM640 420h4v4h-4zM404 424h4v4h-4zM584 424h12v4h-12zM400 428h12v4h-12zM596 428h12v4h-12zM636 428h4v4h-4zM408 432h8v4h-8zM604 432h16v4h-16zM632 432h8v4h-8zM412 436h12v4h-12zM612 436h32v4h-32zM416 440h12v4h-12zM624 440h24v4h-24zM424 444h8v4h-8zM632 444h16v4h-16zM428 448h8v4h-8zM636 448h8v4h-8zM432 452h8v4h-8zM432 456h8v4h-8zM432 460h8v4h-8zM436 464h4v4h-4zM436 468h4v4h-4zM436 472h4v4h-4zM440 476h4v4h-4zM440 480h4v4h-4zM440 484h4v4h-4zM444 488h4v4h-4zM444 492h4v4h-4zM448 496h4v4h-4zM452 500h4v4h-4zM452 504h4v4h-4zM456 512h4v4h-4zM460 520h4v4h-4zM464 528h4v4h-4zM464 532h4v4h-4z"/>
<path fill="#ff6700" d="M348 364h12v4h-12zM344 368h20v4h-20zM340 372h4v4h-4zM360 372h4v4h-4zM364 376h4v4h-4zM368 380h4v4h-4zM368 384h4v4h-4zM372 388h4v4h-4zM372 392h4v4h-4zM376 396h4v4h-4zM376 400h4v4h-4zM380 404h4v4h-4zM384 408h4v4h-4zM388 412h8v4h-8zM392 416h8v4h-8zM652 416h8v4h-8zM396 420h4v4h-4zM644 420h20v4h-20zM396 424h8v4h-8zM568 424h16v4h-16zM636 424h28v4h-28zM576 428h20v4h-20zM640 428h24v4h-24zM404 432h4v4h-4zM592 432h12v4h-12zM640 432h20v4h-20zM404 436h8v4h-8zM600 436h12v4h-12zM644 436h12v4h-12zM408 440h8v4h-8zM612 440h12v4h-12zM648 440h4v4h-4zM412 444h12v4h-12zM620 444h12v4h-12zM420 448h8v4h-8zM628 448h8v4h-8zM424 452h8v4h-8zM424 456h8v4h-8zM428 460h4v4h-4zM428 464h8v4h-8zM432 468h4v4h-4zM432 472h4v4h-4zM432 476h8v4h-8zM436 480h4v4h-4zM436 484h4v4h-4zM440 488h4v4h-4zM440 492h4v4h-4zM444 496h4v4h-4zM444 500h8v4h-8zM448 504h4v4h-4zM452 508h4v4h-4zM452 512h4v4h-4zM456 516h4v4h-4zM456 520h4v4h-4zM460 524h4v4h-4zM460 528h4v4h-4zM472 540h4v4h-4zM476 544h4v4h-4z"/>
<path fill="#ff6100" d="M344 372h16v4h-16zM336 376h4v4h-4zM360 376h4v4h-4zM360 380h8v4h-8zM364 384h4v4h-4zM368 388h4v4h-4zM368 392h4v4h-4zM368 396h8v4h-8zM372 400h4v4h-4zM372 404h8v4h-8zM376 408h8v4h-8zM380 412h8v4h-8zM384 416h8v4h-8zM388 420h8v4h-8zM392 424h4v4h-4zM396 428h4v4h-4zM568 428h8v4h-8zM400 432h4v4h-4zM568 432h24v4h-24zM588 436h12v4h-12zM404 440h4v4h-4zM600 440h12v4h-12zM408 444h4v4h-4zM608 444h12v4h-12zM408 448h12v4h-12zM616 448h12v4h-12zM416 452h8v4h-8zM636 452h4v4h-4zM420 456h4v4h-4zM420 460h8v4h-8zM424 464h4v4h-4zM424 468h8v4h-8zM428 472h4v4h-4zM428 476h4v4h-4zM432 480h4v4h-4zM432 484h4v4h-4zM436 488h4v4h-4zM436 492h4v4h-4zM440 496h4v4h-4zM440 500h4v4h-4zM444 504h4v4h-4zM448 508h4v4h-4zM448 512h4v4h-4zM452 516h4v4h-4zM456 524h4v4h-4zM460 532h4v4h-4z"/>
<path fill="#ff5b00" d="M340 376h4v4h-4zM352 376h8v4h-8zM356 380h4v4h-4zM360 384h4v4h-4zM360 388h8v4h-8zM364 392h4v4h-4zM364 396h4v4h-4zM368 400h4v4h-4zM368 404h4v4h-4zM372 408h4v4h-4zM372 412h8v4h-8zM376 416h8v4h-8zM380 420h8v4h-8zM384 424h8v4h-8zM392 428h4v4h-4zM396 436h8v4h-8zM568 436h20v4h-20zM400 440h4v4h-4zM568 440h32v4h-32zM400 444h8v4h-8zM568 444h16v4h-16zM592 444h16v4h-16zM404 448h4v4h-4zM568 448h4v4h-4zM600 448h16v4h-16zM408 452h8v4h-8zM612 452h24v4h-24zM408 456h12v4h-12zM412 460h8v4h-8zM416 464h8v4h-8zM416 468h8v4h-8zM420 472h8v4h-8zM420 476h8v4h-8zM424 480h8v4h-8zM428 484h4v4h-4zM432 488h4v4h-4zM432 492h4v4h-4zM436 496h4v4h-4zM436 500h4v4h-4zM440 504h4v4h-4zM444 508h4v4h-4zM444 512h4v4h-4zM448 516h4v4h-4zM452 520h4v4h-4zM452 524h4v4h-4zM456 528h4v4h-4z"/>
<path fill="#ff5400" d="M344 376h8v4h-8zM348 380h8v4h-8zM352 384h8v4h-8zM356 388h4v4h-4zM360 392h4v4h-4zM360 396h4v4h-4zM360 400h8v4h-8zM360 404h8v4h-8zM364 408h8v4h-8zM368 412h4v4h-4zM368 416h8v4h-8zM372 420h8v4h-8zM376 424h8v4h-8zM384 428h8v4h-8zM388 432h12v4h-12zM392 436h4v4h-4zM392 440h8v4h-8zM396 444h4v4h-4zM584 444h8v4h-8zM396 448h8v4h-8zM572 448h28v4h-28zM400 452h8v4h-8zM568 452h44v4h-44zM400 456h8v4h-8zM572 456h8v4h-8zM604 456h40v4h-40zM404 460h8v4h-8zM616 460h12v4h-12zM404 464h12v4h-12zM404 468h12v4h-12zM404 472h16v4h-16zM400 476h20v4h-20zM400 480h4v4h-4zM412 480h12v4h-12zM420 484h8v4h-8zM424 488h8v4h-8zM428 492h4v4h-4zM432 496h4v4h-4zM432 500h4v4h-4zM436 504h4v4h-4zM440 508h4v4h-4zM440 512h4v4h-4zM444 516h4v4h-4zM448 520h4v4h-4zM452 528h4v4h-4zM464 536h4v4h-4z"/>
<path fill="#ff4e00" d="M332 380h16v4h-16zM344 384h8v4h-8zM348 388h8v4h-8zM328 392h4v4h-4zM352 392h8v4h-8zM324 396h12v4h-12zM352 396h8v4h-8zM320 400h20v4h-20zM352 400h8v4h-8zM316 404h32v4h-32zM352 404h8v4h-8zM316 408h28v4h-28zM352 408h12v4h-12zM320 412h24v4h-24zM356 412h12v4h-12zM324 416h4v4h-4zM360 416h8v4h-8zM364 420h8v4h-8zM368 424h8v4h-8zM372 428h12v4h-12zM380 432h8v4h-8zM384 436h8v4h-8zM388 440h4v4h-4zM388 444h8v4h-8zM392 448h4v4h-4zM392 452h8v4h-8zM396 456h4v4h-4zM580 456h24v4h-24zM396 460h8v4h-8zM572 460h16v4h-16zM600 460h16v4h-16zM628 460h16v4h-16zM396 464h8v4h-8zM576 464h4v4h-4zM608 464h36v4h-36zM396 468h8v4h-8zM616 468h28v4h-28zM396 472h8v4h-8zM624 472h20v4h-20zM396 476h4v4h-4zM632 476h12v4h-12zM396 480h4v4h-4zM404 480h8v4h-8zM396 484h24v4h-24zM396 488h28v4h-28zM420 492h8v4h-8zM424 496h8v4h-8zM428 500h4v4h-4zM432 504h4v4h-4zM432 508h8v4h-8zM436 512h4v4h-4zM436 516h8v4h-8zM444 520h4v4h-4zM448 524h4v4h-4zM456 532h4v4h-4z"/>
<path fill="#ff4700" d="M328 384h16v4h-16zM328 388h20v4h-20zM332 392h20v4h-20zM336 396h16v4h-16zM340 400h12v4h-12zM348 404h4v4h-4zM344 408h8v4h-8zM344 412h12v4h-12zM328 416h8v4h-8zM348 416h12v4h-12zM356 420h8v4h-8zM360 424h8v4h-8zM364 428h8v4h-8zM368 432h12v4h-12zM376 436h8v4h-8zM380 440h8v4h-8zM384 444h4v4h-4zM388 448h4v4h-4zM388 452h4v4h-4zM388 456h8v4h-8zM392 460h4v4h-4zM588 460h12v4h-12zM392 464h4v4h-4zM580 464h28v4h-28zM392 468h4v4h-4zM576 468h8v4h-8zM600 468h16v4h-16zM392 472h4v4h-4zM608 472h16v4h-16zM616 476h16v4h-16zM620 480h24v4h-24zM620 484h24v4h-24zM628 488h12v4h-12zM396 492h24v4h-24zM412 496h12v4h-12zM420 500h8v4h-8zM424 504h8v4h-8zM428 508h4v4h-4zM432 512h4v4h-4zM436 520h8v4h-8zM440 524h8v4h-8zM444 528h8v4h-8zM452 532h4v4h-4zM468 540h4v4h-4z"/>
<path fill="#ff4100" d="M336 416h12v4h-12zM320 420h36v4h-36zM316 424h44v4h-44zM316 428h32v4h-32zM352 428h12v4h-12zM320 432h24v4h-24zM360 432h8v4h-8zM324 436h16v4h-16zM364 436h12v4h-12zM372 440h8v4h-8zM376 444h8v4h-8zM380 448h8v4h-8zM384 452h4v4h-4zM384 456h4v4h-4zM384 460h8v4h-8zM388 464h4v4h-4zM388 468h4v4h-4zM584 468h16v4h-16zM576 472h32v4h-32zM392 476h4v4h-4zM604 476h12v4h-12zM612 480h8v4h-8zM624 488h4v4h-4zM628 492h4v4h-4zM396 496h16v4h-16zM404 500h16v4h-16zM416 504h8v4h-8zM424 508h4v4h-4zM428 512h4v4h-4zM436 524h4v4h-4zM440 528h4v4h-4zM444 532h8v4h-8zM452 536h12v4h-12z"/>
<path fill="#ff3b00" d="M348 428h4v4h-4zM344 432h16v4h-16zM340 436h4v4h-4zM356 436h8v4h-8zM360 440h12v4h-12zM368 444h8v4h-8zM372 448h8v4h-8zM376 452h8v4h-8zM380 456h4v4h-4zM380 460h4v4h-4zM384 464h4v4h-4zM384 468h4v4h-4zM388 472h4v4h-4zM576 476h28v4h-28zM588 480h24v4h-24zM616 484h4v4h-4zM632 492h4v4h-4zM392 500h12v4h-12zM392 504h24v4h-24zM392 508h32v4h-32zM392 512h8v4h-8zM420 512h8v4h-8zM428 516h8v4h-8zM432 520h4v4h-4zM432 524h4v4h-4zM436 528h4v4h-4zM440 532h4v4h-4zM444 536h8v4h-8zM452 540h12v4h-12z"/>
<path fill="#ff3400" d="M344 436h12v4h-12zM348 440h12v4h-12zM356 444h12v4h-12zM360 448h12v4h-12zM368 452h8v4h-8zM372 456h8v4h-8zM372 460h8v4h-8zM376 464h8v4h-8zM380 468h4v4h-4zM384 472h4v4h-4zM388 476h4v4h-4zM392 480h4v4h-4zM576 480h12v4h-12zM576 484h40v4h-40zM576 488h36v4h-36zM620 488h4v4h-4zM576 492h12v4h-12zM400 512h20v4h-20zM392 516h36v4h-36zM392 520h12v4h-12zM424 520h8v4h-8zM428 524h4v4h-4zM432 528h4v4h-4zM432 532h8v4h-8zM440 536h4v4h-4zM444 540h8v4h-8zM464 540h4v4h-4zM452 544h12v4h-12z"/>
<path fill="#ff2e00" d="M328 440h20v4h-20zM348 444h8v4h-8zM352 448h8v4h-8zM360 452h8v4h-8zM364 456h8v4h-8zM364 460h8v4h-8zM368 464h8v4h-8zM372 468h8v4h-8zM376 472h8v4h-8zM380 476h8v4h-8zM384 480h8v4h-8zM388 484h4v4h-4zM612 488h8v4h-8zM588 492h40v4h-40zM580 496h8v4h-8zM404 520h20v4h-20zM416 524h12v4h-12zM424 528h8v4h-8zM428 532h4v4h-4zM432 536h8v4h-8zM436 540h8v4h-8zM444 544h8v4h-8zM464 544h12v4h-12zM452 548h4v4h-4zM464 548h4v4h-4z"/>
<path fill="#ff2700" d="M324 440h4v4h-4zM344 444h4v4h-4zM348 448h4v4h-4zM352 452h8v4h-8zM356 456h8v4h-8zM360 460h4v4h-4zM360 464h8v4h-8zM364 468h8v4h-8zM368 472h8v4h-8zM372 476h8v4h-8zM376 480h8v4h-8zM384 484h4v4h-4zM588 496h40v4h-40zM576 500h40v4h-40zM396 524h20v4h-20zM408 528h16v4h-16zM416 532h12v4h-12zM424 536h8v4h-8zM428 540h8v4h-8zM432 544h12v4h-12zM436 548h16v4h-16zM456 548h8v4h-8zM468 548h8v4h-8zM444 552h24v4h-24z"/>
<path fill="#ff2100" d="M340 444h4v4h-4zM340 448h8v4h-8zM344 452h8v4h-8zM348 456h8v4h-8zM352 460h8v4h-8zM352 464h8v4h-8zM356 468h8v4h-8zM360 472h8v4h-8zM364 476h8v4h-8zM368 480h8v4h-8zM376 484h8v4h-8zM380 488h12v4h-12zM628 496h4v4h-4zM616 500h12v4h-12zM576 504h48v4h-48zM576 508h40v4h-40zM396 528h12v4h-12zM396 532h20v4h-20zM404 536h20v4h-20zM416 540h12v4h-12zM420 544h12v4h-12zM424 548h12v4h-12zM476 548h4v4h-4zM432 552h12v4h-12zM468 552h12v4h-12zM436 556h44v4h-44zM448 560h32v4h-32z"/>
<path fill="#ff1a00" d="M336 444h4v4h-4zM336 448h4v4h-4zM336 452h8v4h-8zM340 456h8v4h-8zM340 460h12v4h-12zM344 464h8v4h-8zM348 468h8v4h-8zM352 472h8v4h-8zM356 476h8v4h-8zM360 480h8v4h-8zM364 484h12v4h-12zM368 488h12v4h-12zM376 492h12v4h-12zM384 496h4v4h-4zM632 496h8v4h-8zM628 500h16v4h-16zM624 504h24v4h-24zM616 508h36v4h-36zM576 512h72v4h-72zM576 516h24v4h-24zM636 516h12v4h-12zM580 520h16v4h-16zM584 524h8v4h-8zM392 532h4v4h-4zM392 536h12v4h-12zM392 540h24v4h-24zM392 544h28v4h-28zM396 548h28v4h-28zM416 552h16v4h-16zM420 556h16v4h-16zM428 560h20v4h-20zM440 564h40v4h-40zM448 568h28v4h-28zM460 572h12v4h-12z"/>
<path fill="#ff1400" d="M312 440h12v4h-12zM316 444h20v4h-20zM316 448h20v4h-20zM316 452h20v4h-20zM316 456h24v4h-24zM320 460h20v4h-20zM324 464h20v4h-20zM332 468h16v4h-16zM336 472h16v4h-16zM344 476h12v4h-12zM348 480h12v4h-12zM352 484h12v4h-12zM356 488h12v4h-12zM364 492h12v4h-12zM368 496h16v4h-16zM600 516h36v4h-36zM596 520h8v4h-8zM612 520h32v4h-32zM592 524h8v4h-8zM388 540h4v4h-4zM396 552h20v4h-20zM392 556h28v4h-28zM392 560h36v4h-36zM392 564h48v4h-48zM392 568h12v4h-12zM420 568h28v4h-28zM476 568h8v4h-8zM432 572h28v4h-28zM472 572h12v4h-12zM444 576h44v4h-44zM452 580h36v4h-36zM456 584h32v4h-32zM456 588h32v4h-32zM460 592h24v4h-24zM460 596h20v4h-20z"/>
<path fill="#ff0e00" d="M308 440h4v4h-4zM268 444h12v4h-12zM284 444h32v4h-32zM264 448h52v4h-52zM260 452h56v4h-56zM256 456h60v4h-60zM256 460h64v4h-64zM260 464h64v4h-64zM264 468h68v4h-68zM268 472h68v4h-68zM272 476h72v4h-72zM276 480h72v4h-72zM280 484h32v4h-32zM336 484h16v4h-16zM288 488h20v4h-20zM340 488h16v4h-16zM292 492h12v4h-12zM348 492h16v4h-16zM296 496h4v4h-4zM352 496h16v4h-16zM356 500h32v4h-32zM360 504h28v4h-28zM360 508h28v4h-28zM364 512h24v4h-24zM368 516h16v4h-16zM376 520h4v4h-4zM604 520h8v4h-8zM644 520h4v4h-4zM600 524h4v4h-4zM608 524h28v4h-28zM392 552h4v4h-4zM388 564h4v4h-4zM404 568h16v4h-16zM396 572h36v4h-36zM400 576h44v4h-44zM428 580h24v4h-24zM436 584h20v4h-20zM440 588h16v4h-16zM444 592h16v4h-16zM440 596h20v4h-20zM440 600h16v4h-16z"/>
<path fill="#ff0700" d="M312 484h24v4h-24zM308 488h32v4h-32zM304 492h44v4h-44zM300 496h52v4h-52zM296 500h60v4h-60zM300 504h12v4h-12zM332 504h28v4h-28zM304 508h4v4h-4zM336 508h24v4h-24zM340 512h24v4h-24zM348 516h20v4h-20zM352 520h24v4h-24zM356 524h24v4h-24zM604 524h4v4h-4zM636 524h4v4h-4zM364 528h16v4h-16zM588 528h4v4h-4zM608 528h28v4h-28zM388 560h4v4h-4zM408 580h20v4h-20zM424 584h12v4h-12zM428 588h12v4h-12zM432 592h12v4h-12zM432 596h8v4h-8zM436 600h4v4h-4z"/>
<path fill="#ff0100" d="M312 504h20v4h-20zM308 508h28v4h-28zM308 512h32v4h-32zM312 516h36v4h-36zM316 520h36v4h-36zM316 524h40v4h-40zM640 524h8v4h-8zM316 528h48v4h-48zM592 528h16v4h-16zM636 528h12v4h-12zM316 532h8v4h-8zM340 532h40v4h-40zM608 532h32v4h-32zM348 536h32v4h-32zM352 540h28v4h-28zM360 544h16v4h-16zM392 572h4v4h-4zM396 576h4v4h-4zM404 580h4v4h-4zM412 584h12v4h-12zM420 588h8v4h-8zM424 592h8v4h-8zM424 596h8v4h-8zM428 600h8v4h-8zM428 604h8v4h-8z"/>
<path fill="#f90000" d="M648 528h4v4h-4zM324 532h16v4h-16zM596 532h12v4h-12zM640 532h12v4h-12zM316 536h32v4h-32zM604 536h52v4h-52zM316 540h36v4h-36zM380 540h4v4h-4zM620 540h36v4h-36zM328 544h32v4h-32zM376 544h12v4h-12zM340 548h52v4h-52zM348 552h44v4h-44zM352 556h40v4h-40zM356 560h32v4h-32zM360 564h28v4h-28zM360 568h20v4h-20zM360 572h12v4h-12zM364 576h4v4h-4zM416 588h4v4h-4zM416 592h8v4h-8zM420 596h4v4h-4zM420 600h8v4h-8zM456 600h4v4h-4zM424 604h4v4h-4z"/>
<path fill="#f30000" d="M592 532h4v4h-4zM596 536h8v4h-8zM600 540h20v4h-20zM316 544h12v4h-12zM612 544h44v4h-44zM312 548h28v4h-28zM640 548h12v4h-12zM312 552h36v4h-36zM320 556h32v4h-32zM332 560h24v4h-24zM344 564h16v4h-16zM352 568h8v4h-8zM380 568h4v4h-4zM388 568h4v4h-4zM408 584h4v4h-4zM412 588h4v4h-4zM412 592h4v4h-4zM416 596h4v4h-4zM416 600h4v4h-4zM420 604h4v4h-4zM436 604h4v4h-4z"/>
<path fill="#ed0000" d="M584 532h8v4h-8zM588 536h8v4h-8zM592 540h8v4h-8zM596 544h16v4h-16zM608 548h32v4h-32zM640 552h12v4h-12zM308 556h12v4h-12zM308 560h24v4h-24zM308 564h36v4h-36zM308 568h44v4h-44zM308 572h52v4h-52zM348 576h16v4h-16zM400 580h4v4h-4zM404 584h4v4h-4zM408 588h4v4h-4zM408 592h4v4h-4zM412 596h4v4h-4zM412 600h4v4h-4zM416 604h4v4h-4zM424 608h4v4h-4z"/>
<path fill="#e60000" d="M580 536h8v4h-8zM580 540h12v4h-12zM588 544h8v4h-8zM592 548h16v4h-16zM600 552h40v4h-40zM612 556h24v4h-24zM372 572h4v4h-4zM308 576h40v4h-40zM392 576h4v4h-4zM312 580h52v4h-52zM320 584h4v4h-4zM340 584h28v4h-28zM400 584h4v4h-4zM400 588h8v4h-8zM404 592h4v4h-4zM404 596h8v4h-8zM408 600h4v4h-4zM460 600h16v4h-16zM412 604h4v4h-4zM440 604h8v4h-8z"/>
<path fill="#e00000" d="M576 544h12v4h-12zM572 548h20v4h-20zM580 552h20v4h-20zM592 556h20v4h-20zM636 556h8v4h-8zM604 560h36v4h-36zM620 564h4v4h-4zM384 568h4v4h-4zM376 572h4v4h-4zM368 576h4v4h-4zM364 580h4v4h-4zM396 580h4v4h-4zM312 584h8v4h-8zM324 584h16v4h-16zM396 584h4v4h-4zM324 588h44v4h-44zM396 588h4v4h-4zM336 592h32v4h-32zM396 592h8v4h-8zM344 596h20v4h-20zM400 596h4v4h-4zM360 600h4v4h-4zM404 600h4v4h-4zM408 604h4v4h-4zM420 608h4v4h-4z"/>
<path fill="#d90000" d="M572 552h8v4h-8zM576 556h16v4h-16zM644 556h4v4h-4zM584 560h20v4h-20zM640 560h4v4h-4zM592 564h28v4h-28zM624 564h16v4h-16zM608 568h24v4h-24zM380 572h12v4h-12zM372 576h20v4h-20zM368 580h28v4h-28zM368 584h28v4h-28zM320 588h4v4h-4zM368 588h28v4h-28zM324 592h12v4h-12zM384 592h12v4h-12zM324 596h20v4h-20zM364 596h4v4h-4zM388 596h12v4h-12zM328 600h32v4h-32zM392 600h12v4h-12zM336 604h28v4h-28zM396 604h12v4h-12zM340 608h20v4h-20zM404 608h16v4h-16zM428 608h4v4h-4z"/>
<path fill="#d30000" d="M568 556h8v4h-8zM648 556h4v4h-4zM568 560h16v4h-16zM644 560h12v4h-12zM568 564h24v4h-24zM640 564h12v4h-12zM572 568h36v4h-36zM632 568h12v4h-12zM572 572h16v4h-16zM596 572h44v4h-44zM580 576h4v4h-4zM616 576h8v4h-8zM488 580h4v4h-4zM308 584h4v4h-4zM488 584h4v4h-4zM304 588h16v4h-16zM300 592h24v4h-24zM368 592h16v4h-16zM296 596h28v4h-28zM372 596h16v4h-16zM296 600h32v4h-32zM364 600h4v4h-4zM372 600h20v4h-20zM296 604h40v4h-40zM376 604h20v4h-20zM448 604h4v4h-4zM296 608h12v4h-12zM320 608h20v4h-20zM360 608h4v4h-4zM384 608h20v4h-20zM324 612h36v4h-36zM392 612h24v4h-24zM332 616h24v4h-24zM336 620h16v4h-16z"/>
<path fill="#cc0000" d="M652 564h8v4h-8zM644 568h12v4h-12zM588 572h8v4h-8zM640 572h12v4h-12zM584 576h32v4h-32zM624 576h20v4h-20zM580 580h4v4h-4zM608 580h28v4h-28zM368 596h4v4h-4zM368 600h4v4h-4zM364 604h12v4h-12zM308 608h12v4h-12zM364 608h20v4h-20zM432 608h8v4h-8zM304 612h20v4h-20zM360 612h32v4h-32zM416 612h24v4h-24zM312 616h20v4h-20zM356 616h84v4h-84zM316 620h20v4h-20zM352 620h88v4h-88zM320 624h52v4h-52zM384 624h52v4h-52zM324 628h44v4h-44zM392 628h24v4h-24zM328 632h36v4h-36zM336 636h24v4h-24z"/>
<path fill="#c60000" d="M656 568h8v4h-8zM652 572h16v4h-16zM644 576h28v4h-28zM584 580h24v4h-24zM636 580h36v4h-36zM600 584h44v4h-44zM616 588h8v4h-8zM440 608h4v4h-4zM300 612h4v4h-4zM440 612h8v4h-8zM296 616h16v4h-16zM440 616h8v4h-8zM300 620h16v4h-16zM440 620h8v4h-8zM300 624h20v4h-20zM372 624h12v4h-12zM436 624h12v4h-12zM304 628h20v4h-20zM368 628h24v4h-24zM416 628h28v4h-28zM308 632h20v4h-20zM364 632h76v4h-76zM308 636h28v4h-28zM360 636h76v4h-76zM312 640h120v4h-120zM316 644h108v4h-108zM320 648h96v4h-96zM324 652h84v4h-84zM332 656h64v4h-64zM344 660h40v4h-40z"/>
<path fill="#c00000" d="M276 528h12v4h-12zM272 532h20v4h-20zM268 536h28v4h-28zM264 540h36v4h-36zM264 544h36v4h-36zM264 548h32v4h-32zM264 552h32v4h-32zM264 556h32v4h-32zM264 560h32v4h-32zM264 564h32v4h-32zM564 564h4v4h-4zM264 568h36v4h-36zM568 568h4v4h-4zM264 572h36v4h-36zM264 576h32v4h-32zM576 576h4v4h-4zM264 580h32v4h-32zM264 584h32v4h-32zM588 584h12v4h-12zM644 584h28v4h-28zM264 588h32v4h-32zM592 588h24v4h-24zM624 588h48v4h-48zM264 592h32v4h-32zM604 592h40v4h-40zM264 596h32v4h-32zM264 600h32v4h-32zM260 604h36v4h-36zM452 604h8v4h-8zM260 608h32v4h-32zM444 608h20v4h-20zM260 612h32v4h-32zM448 612h16v4h-16zM264 616h28v4h-28zM448 616h12v4h-12zM268 620h32v4h-32zM448 620h12v4h-12zM272 624h28v4h-28zM448 624h12v4h-12zM276 628h28v4h-28zM444 628h16v4h-16zM276 632h32v4h-32zM440 632h16v4h-16zM268 636h40v4h-40zM436 636h20v4h-20zM268 640h44v4h-44zM432 640h20v4h-20zM264 644h52v4h-52zM424 644h28v4h-28zM260 648h60v4h-60zM416 648h32v4h-32zM288 652h36v4h-36zM408 652h40v4h-40zM292 656h40v4h-40zM396 656h48v4h-48zM300 660h44v4h-44zM384 660h56v4h-56zM304 664h132v4h-132zM312 668h120v4h-120zM316 672h108v4h-108zM324 676h96v4h-96zM328 680h84v4h-84zM332 684h68v4h-68zM340 688h52v4h-52zM344 692h44v4h-44zM352 696h32v4h-32z"/>
<path fill="#b90000" d="M584 584h4v4h-4zM584 588h8v4h-8zM592 592h12v4h-12zM644 592h28v4h-28zM596 596h72v4h-72zM604 600h36v4h-36zM656 600h4v4h-4zM460 604h20v4h-20zM464 608h20v4h-20zM464 612h20v4h-20zM256 616h8v4h-8zM460 616h20v4h-20zM252 620h16v4h-16zM460 620h20v4h-20zM248 624h24v4h-24zM460 624h16v4h-16zM244 628h32v4h-32zM460 628h16v4h-16zM248 632h28v4h-28zM456 632h20v4h-20zM252 636h16v4h-16zM456 636h20v4h-20zM256 640h12v4h-12zM452 640h24v4h-24zM260 644h4v4h-4zM452 644h20v4h-20zM448 648h24v4h-24zM260 652h28v4h-28zM448 652h20v4h-20zM260 656h32v4h-32zM444 656h24v4h-24zM260 660h40v4h-40zM440 660h28v4h-28zM264 664h40v4h-40zM436 664h28v4h-28zM264 668h48v4h-48zM432 668h32v4h-32zM276 672h40v4h-40zM424 672h36v4h-36zM284 676h40v4h-40zM420 676h40v4h-40zM292 680h36v4h-36zM412 680h44v4h-44zM304 684h28v4h-28zM400 684h52v4h-52zM308 688h32v4h-32zM392 688h60v4h-60zM308 692h36v4h-36zM388 692h60v4h-60zM312 696h40v4h-40zM384 696h60v4h-60zM316 700h124v4h-124zM316 704h120v4h-120zM320 708h112v4h-112zM324 712h104v4h-104zM324 716h100v4h-100zM328 720h92v4h-92zM332 724h88v4h-88zM332 728h84v4h-84zM336 732h80v4h-80zM336 736h80v4h-80zM336 740h76v4h-76zM336 744h76v4h-76zM336 748h76v4h-76zM336 752h76v4h-76zM336 756h76v4h-76z"/>
<path fill="#b30000" d="M580 584h4v4h-4zM580 588h4v4h-4zM584 592h8v4h-8zM588 596h8v4h-8zM588 600h16v4h-16zM640 600h16v4h-16zM660 600h4v4h-4zM596 604h64v4h-64zM604 608h44v4h-44zM612 612h28v4h-28zM480 616h4v4h-4zM480 620h8v4h-8zM476 624h12v4h-12zM476 628h12v4h-12zM476 632h16v4h-16zM476 636h16v4h-16zM476 640h16v4h-16zM472 644h20v4h-20zM472 648h20v4h-20zM468 652h24v4h-24zM468 656h24v4h-24zM468 660h24v4h-24zM464 664h24v4h-24zM260 668h4v4h-4zM464 668h24v4h-24zM260 672h16v4h-16zM460 672h28v4h-28zM256 676h28v4h-28zM460 676h28v4h-28zM260 680h32v4h-32zM456 680h32v4h-32zM264 684h40v4h-40zM452 684h32v4h-32zM264 688h44v4h-44zM452 688h32v4h-32zM268 692h40v4h-40zM448 692h32v4h-32zM268 696h44v4h-44zM444 696h36v4h-36zM272 700h44v4h-44zM440 700h40v4h-40zM276 704h40v4h-40zM436 704h40v4h-40zM276 708h44v4h-44zM432 708h44v4h-44zM280 712h44v4h-44zM428 712h44v4h-44zM288 716h36v4h-36zM424 716h44v4h-44zM292 720h36v4h-36zM420 720h40v4h-40zM300 724h32v4h-32zM420 724h32v4h-32zM304 728h28v4h-28zM416 728h28v4h-28zM308 732h28v4h-28zM416 732h24v4h-24zM312 736h24v4h-24zM416 736h24v4h-24zM316 740h20v4h-20zM412 740h24v4h-24zM316 744h20v4h-20zM412 744h24v4h-24zM316 748h20v4h-20zM412 748h24v4h-24zM316 752h20v4h-20zM412 752h24v4h-24zM316 756h20v4h-20zM412 756h24v4h-24z"/>
<path fill="#ac0000" d="M580 592h4v4h-4zM580 596h8v4h-8zM580 600h8v4h-8zM664 600h4v4h-4zM584 604h12v4h-12zM584 608h20v4h-20zM648 608h8v4h-8zM484 612h4v4h-4zM588 612h24v4h-24zM640 612h16v4h-16zM484 616h8v4h-8zM596 616h56v4h-56zM488 620h8v4h-8zM604 620h44v4h-44zM488 624h12v4h-12zM608 624h40v4h-40zM488 628h12v4h-12zM612 628h32v4h-32zM492 632h12v4h-12zM616 632h24v4h-24zM204 636h16v4h-16zM492 636h16v4h-16zM200 640h24v4h-24zM492 640h20v4h-20zM196 644h32v4h-32zM492 644h24v4h-24zM192 648h40v4h-40zM492 648h28v4h-28zM188 652h44v4h-44zM492 652h32v4h-32zM184 656h48v4h-48zM492 656h36v4h-36zM180 660h52v4h-52zM492 660h40v4h-40zM180 664h52v4h-52zM488 664h48v4h-48zM176 668h52v4h-52zM488 668h56v4h-56zM176 672h52v4h-52zM488 672h60v4h-60zM180 676h52v4h-52zM488 676h64v4h-64zM188 680h44v4h-44zM252 680h8v4h-8zM488 680h68v4h-68zM192 684h40v4h-40zM248 684h16v4h-16zM484 684h72v4h-72zM200 688h32v4h-32zM244 688h20v4h-20zM484 688h76v4h-76zM204 692h28v4h-28zM240 692h28v4h-28zM480 692h76v4h-76zM200 696h32v4h-32zM236 696h32v4h-32zM480 696h76v4h-76zM200 700h72v4h-72zM480 700h72v4h-72zM200 704h28v4h-28zM236 704h40v4h-40zM476 704h72v4h-72zM200 708h24v4h-24zM240 708h36v4h-36zM476 708h72v4h-72zM240 712h40v4h-40zM472 712h72v4h-72zM244 716h44v4h-44zM468 716h72v4h-72zM244 720h48v4h-48zM460 720h80v4h-80zM248 724h52v4h-52zM452 724h84v4h-84zM248 728h56v4h-56zM444 728h92v4h-92zM248 732h60v4h-60zM440 732h96v4h-96zM248 736h64v4h-64zM440 736h92v4h-92zM248 740h68v4h-68zM436 740h96v4h-96zM248 744h68v4h-68zM436 744h96v4h-96zM248 748h68v4h-68zM436 748h96v4h-96zM248 752h68v4h-68zM436 752h96v4h-96zM248 756h68v4h-68zM436 756h96v4h-96z"/>
<path fill="#a60000" d="M576 588h4v4h-4zM576 592h4v4h-4zM576 596h4v4h-4zM668 596h4v4h-4zM572 600h8v4h-8zM668 600h4v4h-4zM480 604h4v4h-4zM572 604h12v4h-12zM660 604h12v4h-12zM484 608h8v4h-8zM572 608h12v4h-12zM656 608h16v4h-16zM488 612h12v4h-12zM568 612h20v4h-20zM656 612h16v4h-16zM492 616h12v4h-12zM568 616h28v4h-28zM652 616h20v4h-20zM496 620h12v4h-12zM564 620h40v4h-40zM648 620h28v4h-28zM500 624h16v4h-16zM560 624h48v4h-48zM648 624h28v4h-28zM500 628h24v4h-24zM556 628h56v4h-56zM644 628h36v4h-36zM504 632h112v4h-112zM640 632h40v4h-40zM508 636h172v4h-172zM512 640h168v4h-168zM516 644h164v4h-164zM520 648h156v4h-156zM524 652h152v4h-152zM528 656h144v4h-144zM532 660h136v4h-136zM536 664h132v4h-132zM544 668h120v4h-120zM548 672h112v4h-112zM176 676h4v4h-4zM552 676h100v4h-100zM172 680h16v4h-16zM556 680h92v4h-92zM172 684h20v4h-20zM556 684h88v4h-88zM172 688h28v4h-28zM560 688h76v4h-76zM168 692h36v4h-36zM556 692h72v4h-72zM168 696h32v4h-32zM556 696h64v4h-64zM168 700h32v4h-32zM552 700h52v4h-52zM172 704h28v4h-28zM228 704h8v4h-8zM548 704h56v4h-56zM176 708h24v4h-24zM224 708h16v4h-16zM548 708h56v4h-56zM180 712h60v4h-60zM544 712h60v4h-60zM184 716h60v4h-60zM540 716h64v4h-64zM188 720h56v4h-56zM540 720h64v4h-64zM188 724h60v4h-60zM536 724h68v4h-68zM196 728h52v4h-52zM536 728h68v4h-68zM200 732h48v4h-48zM536 732h64v4h-64zM204 736h44v4h-44zM532 736h68v4h-68zM208 740h40v4h-40zM532 740h68v4h-68zM208 744h40v4h-40zM532 744h68v4h-68zM208 748h40v4h-40zM532 748h68v4h-68zM208 752h40v4h-40zM532 752h68v4h-68zM208 756h40v4h-40zM532 756h68v4h-68z"/>
<path fill="#a00000" d="M572 576h4v4h-4zM700 576h24v4h-24zM692 580h36v4h-36zM688 584h40v4h-40zM684 588h48v4h-48zM488 592h4v4h-4zM572 592h4v4h-4zM680 592h52v4h-52zM484 596h12v4h-12zM568 596h8v4h-8zM672 596h64v4h-64zM480 600h20v4h-20zM564 600h8v4h-8zM672 600h68v4h-68zM484 604h20v4h-20zM560 604h12v4h-12zM672 604h76v4h-76zM492 608h16v4h-16zM552 608h20v4h-20zM672 608h80v4h-80zM500 612h16v4h-16zM548 612h20v4h-20zM672 612h84v4h-84zM504 616h24v4h-24zM536 616h32v4h-32zM672 616h84v4h-84zM508 620h56v4h-56zM676 620h84v4h-84zM516 624h44v4h-44zM676 624h84v4h-84zM524 628h32v4h-32zM680 628h84v4h-84zM680 632h84v4h-84zM680 636h84v4h-84zM680 640h88v4h-88zM680 644h88v4h-88zM676 648h92v4h-92zM676 652h92v4h-92zM672 656h92v4h-92zM668 660h96v4h-96zM668 664h96v4h-96zM664 668h96v4h-96zM660 672h96v4h-96zM652 676h104v4h-104zM648 680h104v4h-104zM644 684h56v4h-56zM712 684h36v4h-36zM636 688h56v4h-56zM724 688h20v4h-20zM628 692h60v4h-60zM620 696h64v4h-64zM160 700h8v4h-8zM604 700h80v4h-80zM132 704h40v4h-40zM604 704h80v4h-80zM128 708h48v4h-48zM604 708h76v4h-76zM124 712h56v4h-56zM604 712h76v4h-76zM120 716h64v4h-64zM604 716h76v4h-76zM120 720h68v4h-68zM604 720h68v4h-68zM120 724h68v4h-68zM604 724h44v4h-44zM120 728h76v4h-76zM604 728h40v4h-40zM120 732h80v4h-80zM600 732h40v4h-40zM120 736h84v4h-84zM600 736h36v4h-36zM120 740h88v4h-88zM600 740h36v4h-36zM120 744h88v4h-88zM600 744h36v4h-36zM120 748h88v4h-88zM600 748h36v4h-36zM124 752h84v4h-84zM600 752h36v4h-36zM128 756h80v4h-80zM600 756h36v4h-36z"/>
<path fill="#990000" d="M832 420h12v4h-12zM828 424h20v4h-20zM824 428h28v4h-28zM820 432h36v4h-36zM816 436h40v4h-40zM816 440h40v4h-40zM816 444h40v4h-40zM812 448h40v4h-40zM812 452h40v4h-40zM812 456h36v4h-36zM812 460h36v4h-36zM808 464h36v4h-36zM808 468h36v4h-36zM808 472h32v4h-32zM808 476h20v4h-20zM812 480h8v4h-8zM756 484h8v4h-8zM752 488h24v4h-24zM748 492h36v4h-36zM744 496h44v4h-44zM740 500h52v4h-52zM744 504h60v4h-60zM748 508h60v4h-60zM752 512h60v4h-60zM756 516h60v4h-60zM760 520h56v4h-56zM764 524h52v4h-52zM772 528h40v4h-40zM776 532h32v4h-32zM780 536h24v4h-24zM780 540h24v4h-24zM768 544h32v4h-32zM888 544h4v4h-4zM756 548h40v4h-40zM880 548h12v4h-12zM736 552h60v4h-60zM876 552h20v4h-20zM728 556h68v4h-68zM876 556h20v4h-20zM724 560h76v4h-76zM876 560h24v4h-24zM720 564h80v4h-80zM880 564h24v4h-24zM716 568h88v4h-88zM880 568h28v4h-28zM716 572h92v4h-92zM840 572h4v4h-4zM880 572h36v4h-36zM724 576h96v4h-96zM824 576h28v4h-28zM884 576h64v4h-64zM728 580h132v4h-132zM880 580h68v4h-68zM728 584h220v4h-220zM488 588h4v4h-4zM568 588h8v4h-8zM732 588h216v4h-216zM492 592h16v4h-16zM556 592h16v4h-16zM732 592h216v4h-216zM496 596h20v4h-20zM552 596h16v4h-16zM736 596h212v4h-212zM500 600h28v4h-28zM540 600h24v4h-24zM740 600h208v4h-208zM504 604h56v4h-56zM748 604h200v4h-200zM508 608h44v4h-44zM752 608h196v4h-196zM516 612h32v4h-32zM756 612h192v4h-192zM528 616h8v4h-8zM756 616h192v4h-192zM760 620h188v4h-188zM760 624h188v4h-188zM764 628h184v4h-184zM764 632h184v4h-184zM764 636h184v4h-184zM768 640h180v4h-180zM768 644h180v4h-180zM768 648h180v4h-180zM768 652h180v4h-180zM764 656h184v4h-184zM764 660h184v4h-184zM764 664h184v4h-184zM760 668h188v4h-188zM756 672h192v4h-192zM756 676h192v4h-192zM752 680h144v4h-144zM916 680h32v4h-32zM700 684h12v4h-12zM748 684h140v4h-140zM692 688h32v4h-32zM744 688h140v4h-140zM688 692h108v4h-108zM812 692h68v4h-68zM684 696h108v4h-108zM816 696h64v4h-64zM684 700h108v4h-108zM816 700h60v4h-60zM684 704h104v4h-104zM820 704h56v4h-56zM680 708h108v4h-108zM820 708h56v4h-56zM680 712h108v4h-108zM824 712h52v4h-52zM680 716h108v4h-108zM824 716h48v4h-48zM672 720h116v4h-116zM828 720h44v4h-44zM648 724h136v4h-136zM832 724h40v4h-40zM644 728h140v4h-140zM832 728h40v4h-40zM640 732h140v4h-140zM836 732h36v4h-36zM636 736h144v4h-144zM836 736h36v4h-36zM636 740h144v4h-144zM840 740h32v4h-32zM636 744h144v4h-144zM840 744h32v4h-32zM636 748h144v4h-144zM840 748h32v4h-32zM636 752h144v4h-144zM840 752h32v4h-32zM636 756h144v4h-144zM840 756h32v4h-32z"/>
<path fill="#930000" d="M844 468h4v4h-4zM840 472h12v4h-12zM924 472h8v4h-8zM828 476h28v4h-28zM920 476h16v4h-16zM820 480h40v4h-40zM916 480h24v4h-24zM812 484h52v4h-52zM912 484h32v4h-32zM816 488h52v4h-52zM912 488h36v4h-36zM820 492h52v4h-52zM912 492h36v4h-36zM820 496h52v4h-52zM912 496h36v4h-36zM824 500h52v4h-52zM912 500h36v4h-36zM824 504h52v4h-52zM912 504h36v4h-36zM828 508h48v4h-48zM916 508h32v4h-32zM828 512h52v4h-52zM920 512h24v4h-24zM828 516h52v4h-52zM924 516h16v4h-16zM816 520h64v4h-64zM928 520h8v4h-8zM816 524h64v4h-64zM812 528h68v4h-68zM808 532h72v4h-72zM908 532h28v4h-28zM804 536h76v4h-76zM904 536h36v4h-36zM804 540h72v4h-72zM896 540h48v4h-48zM800 544h72v4h-72zM892 544h56v4h-56zM796 548h80v4h-80zM892 548h56v4h-56zM796 552h80v4h-80zM896 552h52v4h-52zM796 556h80v4h-80zM896 556h52v4h-52zM512 560h12v4h-12zM544 560h16v4h-16zM800 560h76v4h-76zM900 560h48v4h-48zM504 564h24v4h-24zM540 564h24v4h-24zM800 564h80v4h-80zM904 564h44v4h-44zM500 568h32v4h-32zM536 568h32v4h-32zM804 568h76v4h-76zM908 568h40v4h-40zM496 572h76v4h-76zM808 572h32v4h-32zM844 572h36v4h-36zM916 572h32v4h-32zM492 576h80v4h-80zM820 576h4v4h-4zM852 576h32v4h-32zM492 580h88v4h-88zM860 580h20v4h-20zM492 584h88v4h-88zM492 588h76v4h-76zM508 592h48v4h-48zM516 596h36v4h-36zM528 600h12v4h-12zM896 680h20v4h-20zM888 684h60v4h-60zM884 688h64v4h-64zM796 692h16v4h-16zM880 692h68v4h-68zM792 696h24v4h-24zM880 696h68v4h-68zM792 700h24v4h-24zM876 700h72v4h-72zM788 704h32v4h-32zM876 704h72v4h-72zM788 708h32v4h-32zM876 708h72v4h-72zM788 712h36v4h-36zM876 712h72v4h-72zM788 716h36v4h-36zM872 716h76v4h-76zM788 720h40v4h-40zM872 720h76v4h-76zM784 724h48v4h-48zM872 724h76v4h-76zM784 728h48v4h-48zM872 728h76v4h-76zM780 732h56v4h-56zM872 732h60v4h-60zM780 736h56v4h-56zM872 736h52v4h-52zM780 740h60v4h-60zM872 740h48v4h-48zM780 744h60v4h-60zM872 744h48v4h-48zM780 748h60v4h-60zM872 748h48v4h-48zM780 752h60v4h-60zM872 752h48v4h-48zM780 756h60v4h-60zM872 756h48v4h-48z"/>
<path fill="#8c0000" d="M932 732h16v4h-16zM924 736h24v4h-24zM920 740h28v4h-28zM920 744h28v4h-28zM920 748h28v4h-28zM920 752h24v4h-24zM920 756h20v4h-20z"/>
</g>
<g filter="url(#bl2)" fill="none" stroke-linecap="round" stroke-linejoin="round">
<path d="M377 239.8L391 239.6" stroke="#00d8ff" stroke-width="5" opacity="0.8"/>
<path d="M377 239.8L391 239.6" stroke="url(#plume)" stroke-width="2.4"/>
<path d="M368.9 230.8L370.4 235.2L372.2 238.4L375 239.6L378.6 239.8" stroke="#000088" stroke-width="2.6"/>
</g>
</g>
<g fill="#ffffff">
<polygon points="613.6,367.5 614.3,371.4 617.1,377.1 616.4,382.1 617.9,385.7 616.4,389.3 617.1,393.5 615,395.7 612.9,393.6 610,389.3 605.7,390 599.3,392.9 596.4,397.1 597.9,398.6 602.1,400.7 602.9,404.3 607.1,405 611.4,404.3 612.1,401.4 614.3,400 615,398.6 615.7,402.1 615,405 615,406.4 602.9,407.9 592.1,409.3 585,410.7 583.8,418.1 582.9,427.6 580,441 582.9,452.4 587.5,462.5 591.25,468.75 590,478.75 588.75,488.75 592.5,496.25 590,503.75 591.25,516.25 596.25,522.5 602.5,525 598.75,533.75 596.7,537.1 591.9,544.3 584.8,553.8 582.4,562.1 576.4,568.1 575.2,572.9 580,577.6 588.3,578.8 588.3,582.4 582.4,590.7 576.4,594.9 575.2,590.7 576.4,582.4 570.5,578.8 563.3,577.6 553.8,574.6 546.7,574.6 540.7,582.4 531.25,585 525,576.25 520,573.75 510,576.25 503.75,580 502.5,588.75 501.25,600 492.5,603.75 493.75,610 487.5,617.5 482.5,620 477.5,616.25 472.5,615 467.5,611.25 455,613.75 442.5,617.5 433.75,618.75 422.5,622.5 417.5,622.5 413.75,615 410,610 407.5,608.75 417.5,602.5 430,597.5 438.75,593.75 443.75,586.25 446.25,587.5 445,595 455,592.5 467.5,590 475,587.5 475,577.5 468.75,573.75 467.5,563.75 466.25,552.5 465,542.5 458.75,535 465,532.5 470,535 480,532.5 481.25,530 478.75,522.5 480,518.75 485,512.5 486.25,507.5 483.75,501.25 491.25,491.25 497.5,482.5 505,473.75 512.5,470 517.5,466.25 520,460 517.1,451.4 521.9,446.7 527.6,441 532.4,433.3 537.1,425.7 538.1,419 536.2,411.4 539,407.6 551.4,403.8 557.1,398.1 559,394.3 566.7,390.5 574.3,387.6 583.8,387.6 585,387.9 594.3,385.7 597.1,381.9 602.9,379.3 608.6,375.7 610,370.7"/>
<polygon points="393.75,470 403.75,471.25 407.5,477.5 410,490 410,497.5 405,507.5 406.25,515 408.75,525 407.5,531 403.1,541.25 405,546.25 412.5,548.75 410,556.25 401.25,562.5 401.25,567.5 406.25,573.75 410,580 416.25,585 407.5,587.5 393.75,588.75 388.6,590 384.3,580 381.4,575.7 374.3,575.7 377.1,587.1 378.6,600 372.9,604.3 368.6,605.7 365.7,614.3 358.6,620 352.9,622.1 351.4,612.9 358.6,602.9 357.1,588.6 354.3,570 375.7,571.4 377.1,562.9 382.9,554.3 374.3,548.6 365.7,541.4 364,532.5 367.5,520 373.75,510 373.75,496.25 377.5,487.5 381.25,481.25 387.5,473.75"/>
<polygon points="428.75,355 431.25,353.75 433.75,357.5 442.5,365 442.5,371.25 447.5,380 450,382.5 445,378.75 440,377.5 435,382.5 441.25,387.5 447.5,392.5 457.5,396.25 470,397.5 480,401.25 487.5,405 491.25,412.5 492.5,422.5 491.25,435 482.9,448.6 477.5,452.5 470,458.75 460,461.25 452.5,457.5 446.25,450 445,440 448.75,435 455,427.5 460,416.25 458.75,405 450,400 436.25,397.5 426.25,395 422.5,386.25 421.25,376.25 428.75,373.75 432.5,370 428.75,367.5 423.75,362.5 427.5,358.75"/>
<polygon points="402.5,361.25 417.5,361.9 416.25,370 408.75,372.5 405,366.25"/>
<polygon points="519,380 527,377.5 534,381 531,385 522,388.5 519,385"/>
<polygon points="347,555 352,552.5 356,555 353,560 348,561"/>
<polygon points="394,430 400,427.5 405,430 404,436 397,437"/>
<polygon points="432.5,514 435.5,514.5 436.5,520 434,524 432.5,519"/>
<polygon points="496,456 499,454.5 501.5,458 498,460.5"/>
<polygon points="455,544 459,542 462.5,545 461,552 457,554 455,549"/>
<polygon points="456.5,569 459,570 460,576 458,580 456,575"/>
<polygon points="435.5,560.5 439.5,559.5 441,565.5 435,566"/>
</g>
<path d="M133.5 62.5V747.5M133.5 62.5H933.5" stroke="#262626" stroke-width="1" fill="none"/>
<polygon points="411.25,281.00 414.21,286.12 420.13,286.12 417.17,291.25 420.13,296.38 414.21,296.38 411.25,301.50 408.29,296.38 402.37,296.38 405.33,291.25 402.37,286.12 408.29,286.12" fill="none" stroke="#ff00ff" stroke-width="1.3"/>
<g font-size="20" opacity="0.999">
<text x="133.5" y="776" text-anchor="middle">-71.55</text>
<text x="206.2" y="776" text-anchor="middle">-71.5</text>
<text x="279.0" y="776" text-anchor="middle">-71.45</text>
<text x="351.7" y="776" text-anchor="middle">-71.4</text>
<text x="424.4" y="776" text-anchor="middle">-71.35</text>
<text x="497.1" y="776" text-anchor="middle">-71.3</text>
<text x="569.9" y="776" text-anchor="middle">-71.25</text>
<text x="642.6" y="776" text-anchor="middle">-71.2</text>
<text x="715.3" y="776" text-anchor="middle">-71.15</text>
<text x="788.0" y="776" text-anchor="middle">-71.1</text>
<text x="860.8" y="776" text-anchor="middle">-71.05</text>
<text x="126" y="756.0" text-anchor="end">41.35</text>
<text x="126" y="693.7" text-anchor="end">41.4</text>
<text x="126" y="631.5" text-anchor="end">41.45</text>
<text x="126" y="569.2" text-anchor="end">41.5</text>
<text x="126" y="506.9" text-anchor="end">41.55</text>
<text x="126" y="444.6" text-anchor="end">41.6</text>
<text x="126" y="382.4" text-anchor="end">41.65</text>
<text x="126" y="320.1" text-anchor="end">41.7</text>
<text x="126" y="257.8" text-anchor="end">41.75</text>
<text x="126" y="195.5" text-anchor="end">41.8</text>
<text x="126" y="133.3" text-anchor="end">41.85</text>
</g>
<g opacity="0.999"><text x="533.5" y="55" text-anchor="middle" font-size="22.15" font-weight="bold" style="fill:#000">OSOM Surface Salinity with Beach Closures 7/1/2006 0:00</text>
<text x="534.4" y="804.2" text-anchor="middle" font-size="22.6">Longitude</text>
<text transform="translate(64.6 405.5) rotate(-90)" text-anchor="middle" font-size="23.2">Latitude</text></g>
<rect x="950.5" y="63.5" width="32.0" height="684.5" fill="url(#jet)" stroke="#262626" stroke-width="1"/>
<path d="M982.5 640.5h-7M982.5 533.5h-7M982.5 426.5h-7M982.5 319.5h-7M982.5 212.5h-7M982.5 105.5h-7" stroke="#262626" stroke-width="1"/>
<g font-size="18.5" opacity="0.999">
<text x="990" y="755.0">0</text>
<text x="990" y="648.0">5</text>
<text x="990" y="541.1">10</text>
<text x="990" y="434.1">15</text>
<text x="990" y="327.2">20</text>
<text x="990" y="220.2">25</text>
<text x="990" y="113.3">30</text>
</g>
</svg>
</body></html>
